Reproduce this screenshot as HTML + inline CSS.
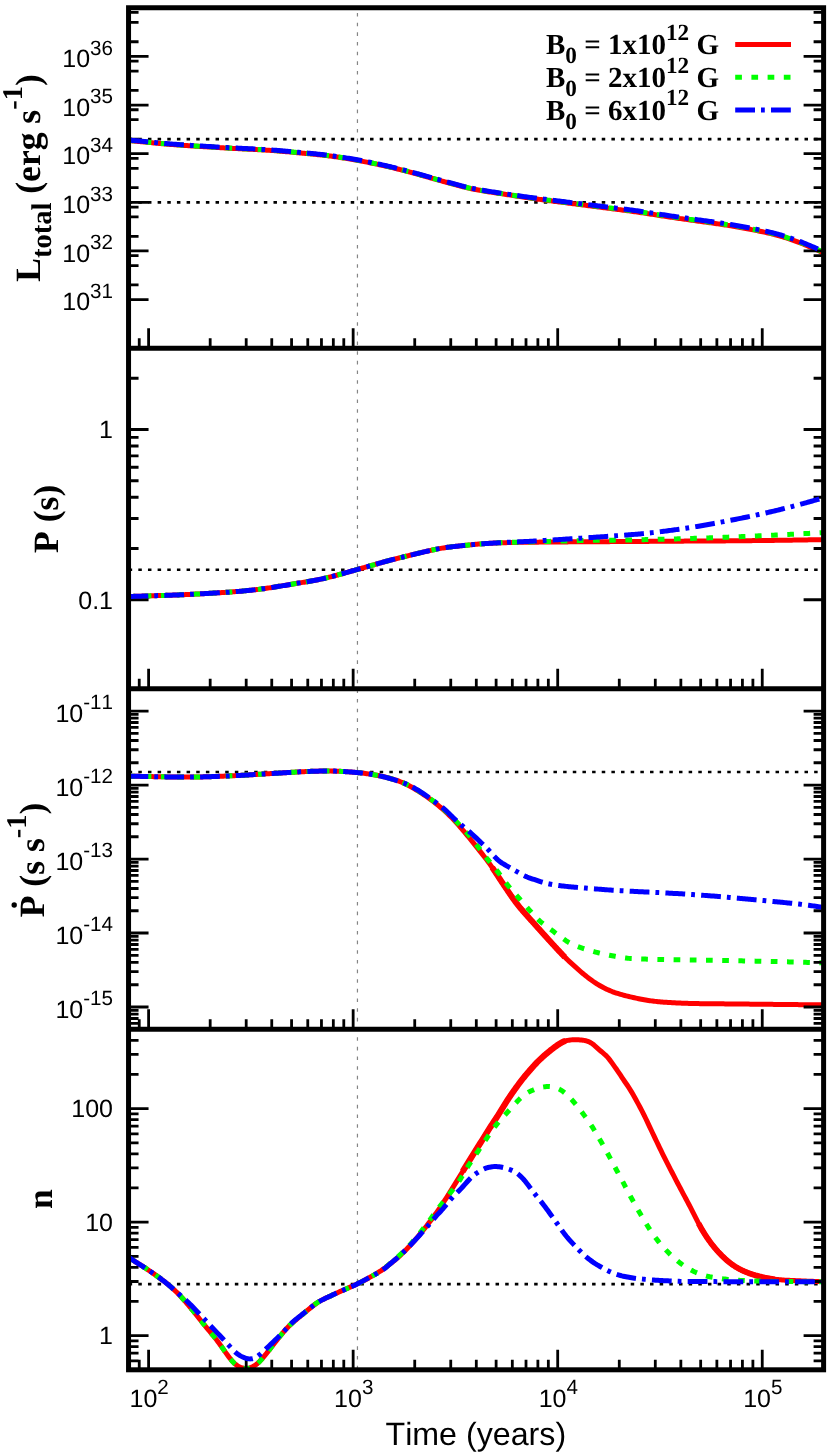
<!DOCTYPE html>
<html><head><meta charset="utf-8"><title>chart</title>
<style>html,body{margin:0;padding:0;background:#fff}svg{display:block;will-change:transform}text{font-kerning:none;font-variant-ligatures:none;text-rendering:geometricPrecision}</style>
</head><body>
<svg width="830" height="1455" viewBox="0 0 830 1455">
<rect width="830" height="1455" fill="#fff"/>
<defs>
<clipPath id="c1"><rect x="128.55" y="7.75" width="695.05" height="340.51"/></clipPath>
<clipPath id="c2"><rect x="128.55" y="348.26" width="695.05" height="340.51"/></clipPath>
<clipPath id="c3"><rect x="128.55" y="688.77" width="695.05" height="340.51"/></clipPath>
<clipPath id="c4"><rect x="128.55" y="1029.29" width="695.05" height="340.51"/></clipPath>
</defs>
<line x1="357.45" y1="13" x2="357.45" y2="1369.80" stroke="#858585" stroke-width="1.2" stroke-dasharray="3.6 6.062"/>
<line x1="128.55" y1="139.04" x2="823.60" y2="139.04" stroke="#000" stroke-width="2.7" stroke-dasharray="3.5 6.155" stroke-dashoffset="-0.1"/>
<line x1="128.55" y1="202.33" x2="823.60" y2="202.33" stroke="#000" stroke-width="2.7" stroke-dasharray="3.5 6.155" stroke-dashoffset="-0.1"/>
<line x1="128.55" y1="569.77" x2="823.60" y2="569.77" stroke="#000" stroke-width="2.7" stroke-dasharray="3.5 6.155" stroke-dashoffset="-0.1"/>
<line x1="128.55" y1="772.01" x2="823.60" y2="772.01" stroke="#000" stroke-width="2.7" stroke-dasharray="3.5 6.155" stroke-dashoffset="-0.1"/>
<line x1="128.55" y1="1284.18" x2="823.60" y2="1284.18" stroke="#000" stroke-width="2.7" stroke-dasharray="3.5 6.155" stroke-dashoffset="-0.1"/>
<path d="M128.50 140.60 L129.89 140.70 L131.29 140.81 L132.68 140.92 L134.08 141.04 L135.47 141.16 L136.86 141.28 L138.26 141.41 L139.65 141.54 L141.04 141.67 L142.44 141.80 L143.83 141.94 L145.23 142.07 L146.62 142.21 L148.01 142.35 L149.41 142.49 L150.80 142.63 L152.19 142.77 L153.59 142.90 L154.98 143.04 L156.38 143.18 L157.77 143.31 L159.16 143.45 L160.56 143.58 L161.95 143.71 L163.34 143.83 L164.74 143.96 L166.13 144.08 L167.53 144.19 L168.92 144.30 L170.31 144.41 L171.71 144.52 L173.10 144.63 L174.49 144.73 L175.89 144.83 L177.28 144.93 L178.68 145.03 L180.07 145.13 L181.46 145.23 L182.86 145.33 L184.25 145.42 L185.65 145.52 L187.04 145.61 L188.43 145.71 L189.83 145.80 L191.22 145.89 L192.61 145.98 L194.01 146.08 L195.40 146.17 L196.80 146.25 L198.19 146.34 L199.58 146.43 L200.98 146.52 L202.37 146.61 L203.76 146.69 L205.16 146.78 L206.55 146.87 L207.95 146.95 L209.34 147.04 L210.73 147.12 L212.13 147.21 L213.52 147.29 L214.91 147.38 L216.31 147.46 L217.70 147.54 L219.10 147.63 L220.49 147.71 L221.88 147.79 L223.28 147.87 L224.67 147.95 L226.07 148.03 L227.46 148.11 L228.85 148.18 L230.25 148.25 L231.64 148.33 L233.03 148.40 L234.43 148.47 L235.82 148.54 L237.22 148.61 L238.61 148.68 L240.00 148.74 L241.40 148.81 L242.79 148.88 L244.18 148.95 L245.58 149.02 L246.97 149.09 L248.37 149.16 L249.76 149.23 L251.15 149.30 L252.55 149.37 L253.94 149.44 L255.33 149.51 L256.73 149.59 L258.12 149.66 L259.52 149.74 L260.91 149.82 L262.30 149.90 L263.70 149.98 L265.09 150.06 L266.48 150.15 L267.88 150.24 L269.27 150.33 L270.67 150.42 L272.06 150.52 L273.45 150.62 L274.85 150.72 L276.24 150.83 L277.64 150.93 L279.03 151.05 L280.42 151.16 L281.82 151.28 L283.21 151.39 L284.60 151.51 L286.00 151.64 L287.39 151.76 L288.79 151.88 L290.18 152.01 L291.57 152.13 L292.97 152.26 L294.36 152.39 L295.75 152.51 L297.15 152.64 L298.54 152.77 L299.94 152.89 L301.33 153.02 L302.72 153.15 L304.12 153.28 L305.51 153.41 L306.90 153.54 L308.30 153.67 L309.69 153.81 L311.09 153.94 L312.48 154.08 L313.87 154.22 L315.27 154.36 L316.66 154.50 L318.06 154.65 L319.45 154.80 L320.84 154.95 L322.24 155.10 L323.63 155.25 L325.02 155.41 L326.42 155.57 L327.81 155.73 L329.21 155.91 L330.60 156.08 L331.99 156.27 L333.39 156.46 L334.78 156.65 L336.17 156.85 L337.57 157.05 L338.96 157.26 L340.36 157.47 L341.75 157.69 L343.14 157.91 L344.54 158.14 L345.93 158.37 L347.32 158.60 L348.72 158.83 L350.11 159.07 L351.51 159.32 L352.90 159.56 L354.29 159.81 L355.69 160.06 L357.08 160.31 L358.47 160.56 L359.87 160.82 L361.26 161.08 L362.66 161.34 L364.05 161.60 L365.44 161.87 L366.84 162.14 L368.23 162.42 L369.63 162.69 L371.02 162.97 L372.41 163.26 L373.81 163.54 L375.20 163.83 L376.59 164.13 L377.99 164.42 L379.38 164.72 L380.78 165.03 L382.17 165.34 L383.56 165.65 L384.96 165.97 L386.35 166.29 L387.74 166.61 L389.14 166.94 L390.53 167.27 L391.93 167.60 L393.32 167.93 L394.71 168.27 L396.11 168.61 L397.50 168.95 L398.89 169.29 L400.29 169.64 L401.68 169.99 L403.08 170.34 L404.47 170.69 L405.86 171.05 L407.26 171.42 L408.65 171.78 L410.05 172.16 L411.44 172.53 L412.83 172.91 L414.23 173.30 L415.62 173.68 L417.01 174.07 L418.41 174.46 L419.80 174.85 L421.20 175.24 L422.59 175.63 L423.98 176.02 L425.38 176.41 L426.77 176.81 L428.16 177.20 L429.56 177.59 L430.95 177.98 L432.35 178.38 L433.74 178.77 L435.13 179.16 L436.53 179.55 L437.92 179.93 L439.31 180.32 L440.71 180.71 L442.10 181.09 L443.50 181.48 L444.89 181.86 L446.28 182.24 L447.68 182.63 L449.07 183.01 L450.46 183.39 L451.86 183.76 L453.25 184.14 L454.65 184.52 L456.04 184.89 L457.43 185.26 L458.83 185.63 L460.22 186.00 L461.62 186.36 L463.01 186.72 L464.40 187.07 L465.80 187.42 L467.19 187.75 L468.58 188.07 L469.98 188.39 L471.37 188.69 L472.77 188.98 L474.16 189.27 L475.55 189.54 L476.95 189.81 L478.34 190.07 L479.73 190.33 L481.13 190.57 L482.52 190.81 L483.92 191.04 L485.31 191.27 L486.70 191.49 L488.10 191.71 L489.49 191.93 L490.88 192.14 L492.28 192.36 L493.67 192.57 L495.07 192.78 L496.46 192.99 L497.85 193.21 L499.25 193.42 L500.64 193.63 L502.04 193.84 L503.43 194.05 L504.82 194.26 L506.22 194.47 L507.61 194.68 L509.00 194.90 L510.40 195.11 L511.79 195.32 L513.19 195.53 L514.58 195.75 L515.97 195.96 L517.37 196.17 L518.76 196.39 L520.15 196.60 L521.55 196.81 L522.94 197.02 L524.34 197.23 L525.73 197.43 L527.12 197.63 L528.52 197.83 L529.91 198.03 L531.30 198.23 L532.70 198.42 L534.09 198.61 L535.49 198.80 L536.88 198.99 L538.27 199.18 L539.67 199.37 L541.06 199.56 L542.45 199.74 L543.85 199.93 L545.24 200.11 L546.64 200.29 L548.03 200.48 L549.42 200.66 L550.82 200.84 L552.21 201.02 L553.61 201.20 L555.00 201.38 L556.39 201.56 L557.79 201.74 L559.18 201.92 L560.57 202.10 L561.97 202.27 L563.36 202.45 L564.76 202.63 L566.15 202.81 L567.54 202.99 L568.94 203.17 L570.33 203.34 L571.72 203.52 L573.12 203.70 L574.51 203.88 L575.91 204.06 L577.30 204.24 L578.69 204.42 L580.09 204.60 L581.48 204.78 L582.87 204.96 L584.27 205.14 L585.66 205.32 L587.06 205.50 L588.45 205.68 L589.84 205.86 L591.24 206.04 L592.63 206.22 L594.03 206.40 L595.42 206.58 L596.81 206.75 L598.21 206.93 L599.60 207.11 L600.99 207.29 L602.39 207.47 L603.78 207.65 L605.18 207.82 L606.57 208.00 L607.96 208.18 L609.36 208.36 L610.75 208.54 L612.14 208.72 L613.54 208.90 L614.93 209.08 L616.33 209.26 L617.72 209.44 L619.11 209.62 L620.51 209.80 L621.90 209.98 L623.29 210.16 L624.69 210.34 L626.08 210.53 L627.48 210.71 L628.87 210.89 L630.26 211.08 L631.66 211.27 L633.05 211.46 L634.44 211.65 L635.84 211.85 L637.23 212.05 L638.63 212.25 L640.02 212.45 L641.41 212.66 L642.81 212.87 L644.20 213.08 L645.60 213.29 L646.99 213.51 L648.38 213.72 L649.78 213.94 L651.17 214.16 L652.56 214.38 L653.96 214.59 L655.35 214.81 L656.75 215.03 L658.14 215.25 L659.53 215.47 L660.93 215.69 L662.32 215.91 L663.71 216.13 L665.11 216.34 L666.50 216.56 L667.90 216.77 L669.29 216.98 L670.68 217.19 L672.08 217.39 L673.47 217.60 L674.86 217.80 L676.26 218.01 L677.65 218.21 L679.05 218.41 L680.44 218.61 L681.83 218.81 L683.23 219.01 L684.62 219.20 L686.02 219.40 L687.41 219.60 L688.80 219.79 L690.20 219.99 L691.59 220.18 L692.98 220.37 L694.38 220.57 L695.77 220.76 L697.17 220.96 L698.56 221.15 L699.95 221.34 L701.35 221.54 L702.74 221.73 L704.13 221.92 L705.53 222.12 L706.92 222.31 L708.32 222.51 L709.71 222.70 L711.10 222.90 L712.50 223.10 L713.89 223.29 L715.28 223.49 L716.68 223.69 L718.07 223.89 L719.47 224.09 L720.86 224.29 L722.25 224.50 L723.65 224.70 L725.04 224.91 L726.43 225.13 L727.83 225.35 L729.22 225.57 L730.62 225.80 L732.01 226.03 L733.40 226.26 L734.80 226.50 L736.19 226.74 L737.59 226.99 L738.98 227.24 L740.37 227.49 L741.77 227.74 L743.16 228.00 L744.55 228.26 L745.95 228.52 L747.34 228.78 L748.74 229.05 L750.13 229.31 L751.52 229.58 L752.92 229.85 L754.31 230.12 L755.70 230.40 L757.10 230.67 L758.49 230.94 L759.89 231.22 L761.28 231.50 L762.67 231.79 L764.07 232.09 L765.46 232.39 L766.85 232.71 L768.25 233.03 L769.64 233.36 L771.04 233.69 L772.43 234.04 L773.82 234.39 L775.22 234.76 L776.61 235.13 L778.01 235.51 L779.40 235.90 L780.79 236.29 L782.19 236.70 L783.58 237.11 L784.97 237.53 L786.37 237.97 L787.76 238.41 L789.16 238.87 L790.55 239.34 L791.94 239.83 L793.34 240.32 L794.73 240.83 L796.12 241.34 L797.52 241.86 L798.91 242.40 L800.31 242.94 L801.70 243.49 L803.09 244.04 L804.49 244.61 L805.88 245.17 L807.27 245.75 L808.67 246.33 L810.06 246.91 L811.46 247.51 L812.85 248.11 L814.24 248.71 L815.64 249.33 L817.03 249.95 L818.42 250.59 L819.82 251.24 L821.21 251.91 L822.61 252.60 L824.00 253.30" fill="none" stroke="#ff0000" stroke-width="5.00" stroke-linejoin="round" clip-path="url(#c1)"/>
<path d="M128.50 140.40 L129.89 140.50 L131.29 140.61 L132.68 140.72 L134.08 140.84 L135.47 140.96 L136.86 141.08 L138.26 141.21 L139.65 141.34 L141.04 141.47 L142.44 141.60 L143.83 141.74 L145.23 141.87 L146.62 142.01 L148.01 142.15 L149.41 142.29 L150.80 142.43 L152.19 142.57 L153.59 142.70 L154.98 142.84 L156.38 142.98 L157.77 143.11 L159.16 143.25 L160.56 143.38 L161.95 143.51 L163.34 143.63 L164.74 143.76 L166.13 143.88 L167.53 143.99 L168.92 144.10 L170.31 144.21 L171.71 144.32 L173.10 144.43 L174.49 144.53 L175.89 144.63 L177.28 144.73 L178.68 144.83 L180.07 144.93 L181.46 145.03 L182.86 145.13 L184.25 145.22 L185.65 145.32 L187.04 145.41 L188.43 145.51 L189.83 145.60 L191.22 145.69 L192.61 145.78 L194.01 145.88 L195.40 145.97 L196.80 146.05 L198.19 146.14 L199.58 146.23 L200.98 146.32 L202.37 146.41 L203.76 146.49 L205.16 146.58 L206.55 146.67 L207.95 146.75 L209.34 146.84 L210.73 146.92 L212.13 147.01 L213.52 147.09 L214.91 147.18 L216.31 147.26 L217.70 147.34 L219.10 147.43 L220.49 147.51 L221.88 147.59 L223.28 147.67 L224.67 147.75 L226.07 147.83 L227.46 147.91 L228.85 147.98 L230.25 148.05 L231.64 148.13 L233.03 148.20 L234.43 148.27 L235.82 148.34 L237.22 148.41 L238.61 148.48 L240.00 148.54 L241.40 148.61 L242.79 148.68 L244.18 148.75 L245.58 148.82 L246.97 148.89 L248.37 148.96 L249.76 149.03 L251.15 149.10 L252.55 149.17 L253.94 149.24 L255.33 149.31 L256.73 149.39 L258.12 149.46 L259.52 149.54 L260.91 149.62 L262.30 149.70 L263.70 149.78 L265.09 149.86 L266.48 149.95 L267.88 150.04 L269.27 150.13 L270.67 150.22 L272.06 150.32 L273.45 150.42 L274.85 150.52 L276.24 150.63 L277.64 150.73 L279.03 150.85 L280.42 150.96 L281.82 151.08 L283.21 151.19 L284.60 151.31 L286.00 151.44 L287.39 151.56 L288.79 151.68 L290.18 151.81 L291.57 151.93 L292.97 152.06 L294.36 152.19 L295.75 152.31 L297.15 152.44 L298.54 152.57 L299.94 152.69 L301.33 152.82 L302.72 152.95 L304.12 153.08 L305.51 153.21 L306.90 153.34 L308.30 153.47 L309.69 153.61 L311.09 153.74 L312.48 153.88 L313.87 154.02 L315.27 154.16 L316.66 154.30 L318.06 154.45 L319.45 154.60 L320.84 154.75 L322.24 154.90 L323.63 155.05 L325.02 155.21 L326.42 155.37 L327.81 155.53 L329.21 155.71 L330.60 155.88 L331.99 156.07 L333.39 156.26 L334.78 156.45 L336.17 156.65 L337.57 156.85 L338.96 157.06 L340.36 157.27 L341.75 157.49 L343.14 157.71 L344.54 157.94 L345.93 158.17 L347.32 158.40 L348.72 158.63 L350.11 158.87 L351.51 159.12 L352.90 159.36 L354.29 159.61 L355.69 159.86 L357.08 160.11 L358.47 160.36 L359.87 160.62 L361.26 160.88 L362.66 161.14 L364.05 161.40 L365.44 161.67 L366.84 161.94 L368.23 162.22 L369.63 162.49 L371.02 162.77 L372.41 163.06 L373.81 163.34 L375.20 163.63 L376.59 163.93 L377.99 164.22 L379.38 164.52 L380.78 164.83 L382.17 165.14 L383.56 165.45 L384.96 165.77 L386.35 166.09 L387.74 166.41 L389.14 166.74 L390.53 167.07 L391.93 167.40 L393.32 167.73 L394.71 168.07 L396.11 168.41 L397.50 168.75 L398.89 169.09 L400.29 169.44 L401.68 169.79 L403.08 170.14 L404.47 170.49 L405.86 170.85 L407.26 171.22 L408.65 171.58 L410.05 171.96 L411.44 172.33 L412.83 172.71 L414.23 173.10 L415.62 173.48 L417.01 173.87 L418.41 174.26 L419.80 174.65 L421.20 175.04 L422.59 175.43 L423.98 175.82 L425.38 176.21 L426.77 176.61 L428.16 177.00 L429.56 177.39 L430.95 177.78 L432.35 178.18 L433.74 178.57 L435.13 178.96 L436.53 179.35 L437.92 179.73 L439.31 180.12 L440.71 180.51 L442.10 180.89 L443.50 181.28 L444.89 181.66 L446.28 182.04 L447.68 182.43 L449.07 182.81 L450.46 183.19 L451.86 183.56 L453.25 183.94 L454.65 184.32 L456.04 184.69 L457.43 185.06 L458.83 185.43 L460.22 185.80 L461.62 186.16 L463.01 186.52 L464.40 186.87 L465.80 187.22 L467.19 187.55 L468.58 187.87 L469.98 188.19 L471.37 188.49 L472.77 188.78 L474.16 189.07 L475.55 189.34 L476.95 189.61 L478.34 189.87 L479.73 190.13 L481.13 190.37 L482.52 190.61 L483.92 190.85 L485.31 191.07 L486.70 191.29 L488.10 191.51 L489.49 191.73 L490.88 191.94 L492.28 192.15 L493.67 192.37 L495.07 192.58 L496.46 192.79 L497.85 193.00 L499.25 193.21 L500.64 193.42 L502.04 193.63 L503.43 193.84 L504.82 194.05 L506.22 194.26 L507.61 194.46 L509.00 194.67 L510.40 194.88 L511.79 195.09 L513.19 195.30 L514.58 195.51 L515.97 195.72 L517.37 195.93 L518.76 196.14 L520.15 196.35 L521.55 196.56 L522.94 196.77 L524.34 196.97 L525.73 197.17 L527.12 197.37 L528.52 197.56 L529.91 197.75 L531.30 197.94 L532.70 198.13 L534.09 198.31 L535.49 198.50 L536.88 198.68 L538.27 198.86 L539.67 199.05 L541.06 199.23 L542.45 199.41 L543.85 199.59 L545.24 199.77 L546.64 199.95 L548.03 200.13 L549.42 200.31 L550.82 200.48 L552.21 200.66 L553.61 200.84 L555.00 201.02 L556.39 201.19 L557.79 201.37 L559.18 201.55 L560.57 201.72 L561.97 201.90 L563.36 202.07 L564.76 202.25 L566.15 202.42 L567.54 202.60 L568.94 202.78 L570.33 202.95 L571.72 203.13 L573.12 203.30 L574.51 203.48 L575.91 203.66 L577.30 203.83 L578.69 204.01 L580.09 204.19 L581.48 204.36 L582.87 204.54 L584.27 204.72 L585.66 204.89 L587.06 205.07 L588.45 205.25 L589.84 205.42 L591.24 205.60 L592.63 205.77 L594.03 205.95 L595.42 206.12 L596.81 206.29 L598.21 206.47 L599.60 206.64 L600.99 206.82 L602.39 206.99 L603.78 207.17 L605.18 207.34 L606.57 207.51 L607.96 207.69 L609.36 207.86 L610.75 208.04 L612.14 208.21 L613.54 208.39 L614.93 208.57 L616.33 208.74 L617.72 208.92 L619.11 209.10 L620.51 209.27 L621.90 209.45 L623.29 209.63 L624.69 209.81 L626.08 209.99 L627.48 210.17 L628.87 210.35 L630.26 210.53 L631.66 210.72 L633.05 210.90 L634.44 211.09 L635.84 211.29 L637.23 211.49 L638.63 211.68 L640.02 211.89 L641.41 212.09 L642.81 212.30 L644.20 212.51 L645.60 212.72 L646.99 212.93 L648.38 213.15 L649.78 213.36 L651.17 213.58 L652.56 213.79 L653.96 214.01 L655.35 214.23 L656.75 214.45 L658.14 214.67 L659.53 214.88 L660.93 215.10 L662.32 215.32 L663.71 215.53 L665.11 215.75 L666.50 215.96 L667.90 216.17 L669.29 216.38 L670.68 216.59 L672.08 216.79 L673.47 217.00 L674.86 217.20 L676.26 217.40 L677.65 217.61 L679.05 217.81 L680.44 218.00 L681.83 218.20 L683.23 218.40 L684.62 218.60 L686.02 218.79 L687.41 218.99 L688.80 219.19 L690.20 219.38 L691.59 219.58 L692.98 219.77 L694.38 219.97 L695.77 220.16 L697.17 220.35 L698.56 220.55 L699.95 220.74 L701.35 220.94 L702.74 221.13 L704.13 221.32 L705.53 221.52 L706.92 221.71 L708.32 221.91 L709.71 222.10 L711.10 222.30 L712.50 222.50 L713.89 222.69 L715.28 222.89 L716.68 223.09 L718.07 223.29 L719.47 223.49 L720.86 223.69 L722.25 223.90 L723.65 224.10 L725.04 224.31 L726.43 224.53 L727.83 224.75 L729.22 224.97 L730.62 225.20 L732.01 225.43 L733.40 225.66 L734.80 225.90 L736.19 226.14 L737.59 226.39 L738.98 226.63 L740.37 226.89 L741.77 227.14 L743.16 227.40 L744.55 227.66 L745.95 227.92 L747.34 228.18 L748.74 228.45 L750.13 228.71 L751.52 228.98 L752.92 229.25 L754.31 229.52 L755.70 229.80 L757.10 230.07 L758.49 230.34 L759.89 230.62 L761.28 230.90 L762.67 231.19 L764.07 231.49 L765.46 231.79 L766.85 232.11 L768.25 232.43 L769.64 232.76 L771.04 233.09 L772.43 233.44 L773.82 233.79 L775.22 234.16 L776.61 234.53 L778.01 234.91 L779.40 235.30 L780.79 235.69 L782.19 236.10 L783.58 236.51 L784.97 236.93 L786.37 237.37 L787.76 237.81 L789.16 238.27 L790.55 238.74 L791.94 239.23 L793.34 239.72 L794.73 240.23 L796.12 240.74 L797.52 241.26 L798.91 241.80 L800.31 242.34 L801.70 242.89 L803.09 243.44 L804.49 244.01 L805.88 244.57 L807.27 245.15 L808.67 245.73 L810.06 246.31 L811.46 246.91 L812.85 247.51 L814.24 248.11 L815.64 248.73 L817.03 249.35 L818.42 249.99 L819.82 250.64 L821.21 251.31 L822.61 252.00 L824.00 252.70" fill="none" stroke="#00ff00" stroke-width="5.00" stroke-linejoin="round" stroke-dasharray="6.7 9.5" clip-path="url(#c1)"/>
<path d="M128.50 596.50 L129.89 596.47 L131.29 596.43 L132.68 596.39 L134.08 596.36 L135.47 596.32 L136.86 596.28 L138.26 596.24 L139.65 596.20 L141.04 596.16 L142.44 596.11 L143.83 596.07 L145.23 596.03 L146.62 595.98 L148.01 595.94 L149.41 595.89 L150.80 595.85 L152.19 595.80 L153.59 595.76 L154.98 595.71 L156.38 595.67 L157.77 595.62 L159.16 595.57 L160.56 595.52 L161.95 595.48 L163.34 595.43 L164.74 595.38 L166.13 595.34 L167.53 595.29 L168.92 595.24 L170.31 595.19 L171.71 595.14 L173.10 595.09 L174.49 595.04 L175.89 594.99 L177.28 594.93 L178.68 594.88 L180.07 594.82 L181.46 594.76 L182.86 594.70 L184.25 594.64 L185.65 594.58 L187.04 594.51 L188.43 594.45 L189.83 594.38 L191.22 594.31 L192.61 594.25 L194.01 594.18 L195.40 594.11 L196.80 594.03 L198.19 593.96 L199.58 593.89 L200.98 593.81 L202.37 593.74 L203.76 593.66 L205.16 593.58 L206.55 593.51 L207.95 593.43 L209.34 593.35 L210.73 593.27 L212.13 593.19 L213.52 593.10 L214.91 593.02 L216.31 592.94 L217.70 592.86 L219.10 592.77 L220.49 592.69 L221.88 592.60 L223.28 592.51 L224.67 592.42 L226.07 592.33 L227.46 592.23 L228.85 592.14 L230.25 592.04 L231.64 591.93 L233.03 591.83 L234.43 591.72 L235.82 591.61 L237.22 591.50 L238.61 591.38 L240.00 591.26 L241.40 591.14 L242.79 591.01 L244.18 590.88 L245.58 590.75 L246.97 590.61 L248.37 590.47 L249.76 590.33 L251.15 590.18 L252.55 590.03 L253.94 589.87 L255.33 589.71 L256.73 589.54 L258.12 589.38 L259.52 589.20 L260.91 589.03 L262.30 588.84 L263.70 588.66 L265.09 588.47 L266.48 588.27 L267.88 588.07 L269.27 587.87 L270.67 587.66 L272.06 587.44 L273.45 587.23 L274.85 587.01 L276.24 586.79 L277.64 586.56 L279.03 586.34 L280.42 586.11 L281.82 585.88 L283.21 585.65 L284.60 585.42 L286.00 585.18 L287.39 584.95 L288.79 584.72 L290.18 584.48 L291.57 584.25 L292.97 584.01 L294.36 583.78 L295.75 583.54 L297.15 583.31 L298.54 583.08 L299.94 582.85 L301.33 582.62 L302.72 582.39 L304.12 582.16 L305.51 581.93 L306.90 581.70 L308.30 581.46 L309.69 581.23 L311.09 580.98 L312.48 580.74 L313.87 580.49 L315.27 580.23 L316.66 579.96 L318.06 579.69 L319.45 579.41 L320.84 579.12 L322.24 578.82 L323.63 578.51 L325.02 578.19 L326.42 577.87 L327.81 577.54 L329.21 577.19 L330.60 576.85 L331.99 576.49 L333.39 576.13 L334.78 575.76 L336.17 575.39 L337.57 575.02 L338.96 574.64 L340.36 574.25 L341.75 573.87 L343.14 573.48 L344.54 573.09 L345.93 572.69 L347.32 572.30 L348.72 571.90 L350.11 571.51 L351.51 571.11 L352.90 570.72 L354.29 570.33 L355.69 569.94 L357.08 569.55 L358.47 569.16 L359.87 568.76 L361.26 568.37 L362.66 567.98 L364.05 567.58 L365.44 567.18 L366.84 566.78 L368.23 566.38 L369.63 565.98 L371.02 565.58 L372.41 565.18 L373.81 564.78 L375.20 564.39 L376.59 563.99 L377.99 563.59 L379.38 563.20 L380.78 562.81 L382.17 562.42 L383.56 562.03 L384.96 561.65 L386.35 561.27 L387.74 560.89 L389.14 560.52 L390.53 560.15 L391.93 559.79 L393.32 559.43 L394.71 559.07 L396.11 558.72 L397.50 558.37 L398.89 558.02 L400.29 557.67 L401.68 557.32 L403.08 556.98 L404.47 556.64 L405.86 556.30 L407.26 555.96 L408.65 555.61 L410.05 555.27 L411.44 554.93 L412.83 554.59 L414.23 554.25 L415.62 553.91 L417.01 553.57 L418.41 553.23 L419.80 552.90 L421.20 552.56 L422.59 552.23 L423.98 551.90 L425.38 551.58 L426.77 551.26 L428.16 550.94 L429.56 550.63 L430.95 550.32 L432.35 550.02 L433.74 549.73 L435.13 549.44 L436.53 549.16 L437.92 548.89 L439.31 548.63 L440.71 548.38 L442.10 548.14 L443.50 547.92 L444.89 547.71 L446.28 547.50 L447.68 547.31 L449.07 547.13 L450.46 546.95 L451.86 546.78 L453.25 546.62 L454.65 546.47 L456.04 546.31 L457.43 546.16 L458.83 546.02 L460.22 545.87 L461.62 545.73 L463.01 545.59 L464.40 545.45 L465.80 545.30 L467.19 545.16 L468.58 545.02 L469.98 544.88 L471.37 544.75 L472.77 544.61 L474.16 544.48 L475.55 544.35 L476.95 544.22 L478.34 544.10 L479.73 543.98 L481.13 543.87 L482.52 543.77 L483.92 543.67 L485.31 543.57 L486.70 543.48 L488.10 543.40 L489.49 543.32 L490.88 543.25 L492.28 543.18 L493.67 543.11 L495.07 543.04 L496.46 542.98 L497.85 542.92 L499.25 542.87 L500.64 542.82 L502.04 542.77 L503.43 542.72 L504.82 542.68 L506.22 542.65 L507.61 542.61 L509.00 542.58 L510.40 542.55 L511.79 542.52 L513.19 542.49 L514.58 542.46 L515.97 542.43 L517.37 542.40 L518.76 542.37 L520.15 542.34 L521.55 542.32 L522.94 542.29 L524.34 542.27 L525.73 542.25 L527.12 542.23 L528.52 542.22 L529.91 542.20 L531.30 542.19 L532.70 542.18 L534.09 542.16 L535.49 542.15 L536.88 542.14 L538.27 542.13 L539.67 542.11 L541.06 542.10 L542.45 542.09 L543.85 542.08 L545.24 542.07 L546.64 542.05 L548.03 542.04 L549.42 542.03 L550.82 542.02 L552.21 542.01 L553.61 541.99 L555.00 541.98 L556.39 541.97 L557.79 541.96 L559.18 541.95 L560.57 541.94 L561.97 541.93 L563.36 541.92 L564.76 541.91 L566.15 541.90 L567.54 541.88 L568.94 541.87 L570.33 541.86 L571.72 541.85 L573.12 541.85 L574.51 541.84 L575.91 541.83 L577.30 541.82 L578.69 541.81 L580.09 541.80 L581.48 541.79 L582.87 541.78 L584.27 541.77 L585.66 541.77 L587.06 541.76 L588.45 541.75 L589.84 541.74 L591.24 541.73 L592.63 541.72 L594.03 541.72 L595.42 541.71 L596.81 541.70 L598.21 541.69 L599.60 541.68 L600.99 541.68 L602.39 541.67 L603.78 541.66 L605.18 541.65 L606.57 541.64 L607.96 541.64 L609.36 541.63 L610.75 541.62 L612.14 541.61 L613.54 541.60 L614.93 541.59 L616.33 541.59 L617.72 541.58 L619.11 541.57 L620.51 541.56 L621.90 541.55 L623.29 541.54 L624.69 541.53 L626.08 541.53 L627.48 541.52 L628.87 541.51 L630.26 541.50 L631.66 541.49 L633.05 541.48 L634.44 541.47 L635.84 541.46 L637.23 541.45 L638.63 541.44 L640.02 541.43 L641.41 541.42 L642.81 541.41 L644.20 541.40 L645.60 541.39 L646.99 541.38 L648.38 541.38 L649.78 541.37 L651.17 541.36 L652.56 541.35 L653.96 541.34 L655.35 541.33 L656.75 541.32 L658.14 541.31 L659.53 541.30 L660.93 541.29 L662.32 541.28 L663.71 541.27 L665.11 541.26 L666.50 541.25 L667.90 541.24 L669.29 541.23 L670.68 541.22 L672.08 541.21 L673.47 541.20 L674.86 541.19 L676.26 541.18 L677.65 541.17 L679.05 541.16 L680.44 541.15 L681.83 541.14 L683.23 541.13 L684.62 541.12 L686.02 541.11 L687.41 541.10 L688.80 541.09 L690.20 541.09 L691.59 541.08 L692.98 541.07 L694.38 541.06 L695.77 541.05 L697.17 541.04 L698.56 541.04 L699.95 541.03 L701.35 541.02 L702.74 541.01 L704.13 541.00 L705.53 541.00 L706.92 540.99 L708.32 540.98 L709.71 540.97 L711.10 540.97 L712.50 540.96 L713.89 540.95 L715.28 540.94 L716.68 540.93 L718.07 540.92 L719.47 540.92 L720.86 540.91 L722.25 540.90 L723.65 540.89 L725.04 540.88 L726.43 540.87 L727.83 540.86 L729.22 540.85 L730.62 540.84 L732.01 540.83 L733.40 540.81 L734.80 540.80 L736.19 540.79 L737.59 540.78 L738.98 540.76 L740.37 540.75 L741.77 540.74 L743.16 540.73 L744.55 540.71 L745.95 540.70 L747.34 540.68 L748.74 540.67 L750.13 540.65 L751.52 540.64 L752.92 540.62 L754.31 540.61 L755.70 540.59 L757.10 540.58 L758.49 540.56 L759.89 540.55 L761.28 540.53 L762.67 540.51 L764.07 540.50 L765.46 540.48 L766.85 540.46 L768.25 540.45 L769.64 540.43 L771.04 540.41 L772.43 540.40 L773.82 540.38 L775.22 540.36 L776.61 540.34 L778.01 540.33 L779.40 540.31 L780.79 540.29 L782.19 540.27 L783.58 540.25 L784.97 540.23 L786.37 540.21 L787.76 540.20 L789.16 540.18 L790.55 540.16 L791.94 540.14 L793.34 540.12 L794.73 540.09 L796.12 540.07 L797.52 540.05 L798.91 540.03 L800.31 540.01 L801.70 539.99 L803.09 539.96 L804.49 539.94 L805.88 539.92 L807.27 539.90 L808.67 539.87 L810.06 539.85 L811.46 539.83 L812.85 539.80 L814.24 539.78 L815.64 539.75 L817.03 539.73 L818.42 539.70 L819.82 539.68 L821.21 539.65 L822.61 539.63 L824.00 539.60" fill="none" stroke="#ff0000" stroke-width="5.00" stroke-linejoin="round" clip-path="url(#c2)"/>
<path d="M128.50 596.50 L129.89 596.47 L131.29 596.43 L132.68 596.39 L134.08 596.36 L135.47 596.32 L136.86 596.28 L138.26 596.24 L139.65 596.20 L141.04 596.16 L142.44 596.11 L143.83 596.07 L145.23 596.03 L146.62 595.98 L148.01 595.94 L149.41 595.89 L150.80 595.85 L152.19 595.80 L153.59 595.76 L154.98 595.71 L156.38 595.67 L157.77 595.62 L159.16 595.57 L160.56 595.52 L161.95 595.48 L163.34 595.43 L164.74 595.38 L166.13 595.34 L167.53 595.29 L168.92 595.24 L170.31 595.19 L171.71 595.14 L173.10 595.09 L174.49 595.04 L175.89 594.99 L177.28 594.93 L178.68 594.88 L180.07 594.82 L181.46 594.76 L182.86 594.70 L184.25 594.64 L185.65 594.58 L187.04 594.51 L188.43 594.45 L189.83 594.38 L191.22 594.31 L192.61 594.25 L194.01 594.18 L195.40 594.11 L196.80 594.03 L198.19 593.96 L199.58 593.89 L200.98 593.81 L202.37 593.74 L203.76 593.66 L205.16 593.58 L206.55 593.51 L207.95 593.43 L209.34 593.35 L210.73 593.27 L212.13 593.19 L213.52 593.10 L214.91 593.02 L216.31 592.94 L217.70 592.86 L219.10 592.77 L220.49 592.69 L221.88 592.60 L223.28 592.51 L224.67 592.42 L226.07 592.33 L227.46 592.23 L228.85 592.14 L230.25 592.04 L231.64 591.93 L233.03 591.83 L234.43 591.72 L235.82 591.61 L237.22 591.50 L238.61 591.38 L240.00 591.26 L241.40 591.14 L242.79 591.01 L244.18 590.88 L245.58 590.75 L246.97 590.61 L248.37 590.47 L249.76 590.33 L251.15 590.18 L252.55 590.03 L253.94 589.87 L255.33 589.71 L256.73 589.54 L258.12 589.38 L259.52 589.20 L260.91 589.03 L262.30 588.84 L263.70 588.66 L265.09 588.47 L266.48 588.27 L267.88 588.07 L269.27 587.87 L270.67 587.66 L272.06 587.44 L273.45 587.23 L274.85 587.01 L276.24 586.79 L277.64 586.56 L279.03 586.34 L280.42 586.11 L281.82 585.88 L283.21 585.65 L284.60 585.42 L286.00 585.18 L287.39 584.95 L288.79 584.72 L290.18 584.48 L291.57 584.25 L292.97 584.01 L294.36 583.78 L295.75 583.54 L297.15 583.31 L298.54 583.08 L299.94 582.85 L301.33 582.62 L302.72 582.39 L304.12 582.16 L305.51 581.93 L306.90 581.70 L308.30 581.46 L309.69 581.23 L311.09 580.98 L312.48 580.74 L313.87 580.49 L315.27 580.23 L316.66 579.96 L318.06 579.69 L319.45 579.41 L320.84 579.12 L322.24 578.82 L323.63 578.51 L325.02 578.19 L326.42 577.87 L327.81 577.54 L329.21 577.19 L330.60 576.85 L331.99 576.49 L333.39 576.13 L334.78 575.76 L336.17 575.39 L337.57 575.02 L338.96 574.64 L340.36 574.25 L341.75 573.87 L343.14 573.48 L344.54 573.09 L345.93 572.69 L347.32 572.30 L348.72 571.90 L350.11 571.51 L351.51 571.11 L352.90 570.72 L354.29 570.33 L355.69 569.94 L357.08 569.55 L358.47 569.16 L359.87 568.76 L361.26 568.37 L362.66 567.98 L364.05 567.58 L365.44 567.18 L366.84 566.78 L368.23 566.38 L369.63 565.98 L371.02 565.58 L372.41 565.18 L373.81 564.78 L375.20 564.39 L376.59 563.99 L377.99 563.59 L379.38 563.20 L380.78 562.81 L382.17 562.42 L383.56 562.03 L384.96 561.65 L386.35 561.27 L387.74 560.89 L389.14 560.52 L390.53 560.15 L391.93 559.79 L393.32 559.43 L394.71 559.07 L396.11 558.72 L397.50 558.37 L398.89 558.02 L400.29 557.67 L401.68 557.32 L403.08 556.98 L404.47 556.64 L405.86 556.30 L407.26 555.96 L408.65 555.61 L410.05 555.27 L411.44 554.93 L412.83 554.59 L414.23 554.25 L415.62 553.91 L417.01 553.57 L418.41 553.23 L419.80 552.90 L421.20 552.56 L422.59 552.23 L423.98 551.90 L425.38 551.58 L426.77 551.26 L428.16 550.94 L429.56 550.63 L430.95 550.32 L432.35 550.02 L433.74 549.73 L435.13 549.44 L436.53 549.16 L437.92 548.89 L439.31 548.63 L440.71 548.38 L442.10 548.14 L443.50 547.92 L444.89 547.70 L446.28 547.50 L447.68 547.31 L449.07 547.12 L450.46 546.95 L451.86 546.78 L453.25 546.61 L454.65 546.46 L456.04 546.31 L457.43 546.16 L458.83 546.01 L460.22 545.87 L461.62 545.73 L463.01 545.59 L464.40 545.45 L465.80 545.31 L467.19 545.17 L468.58 545.04 L469.98 544.90 L471.37 544.77 L472.77 544.64 L474.16 544.51 L475.55 544.38 L476.95 544.26 L478.34 544.14 L479.73 544.02 L481.13 543.91 L482.52 543.80 L483.92 543.69 L485.31 543.59 L486.70 543.49 L488.10 543.40 L489.49 543.31 L490.88 543.22 L492.28 543.13 L493.67 543.05 L495.07 542.97 L496.46 542.89 L497.85 542.81 L499.25 542.74 L500.64 542.67 L502.04 542.61 L503.43 542.55 L504.82 542.50 L506.22 542.46 L507.61 542.41 L509.00 542.38 L510.40 542.34 L511.79 542.31 L513.19 542.28 L514.58 542.25 L515.97 542.22 L517.37 542.19 L518.76 542.16 L520.15 542.13 L521.55 542.09 L522.94 542.06 L524.34 542.03 L525.73 542.00 L527.12 541.97 L528.52 541.94 L529.91 541.90 L531.30 541.87 L532.70 541.83 L534.09 541.80 L535.49 541.76 L536.88 541.72 L538.27 541.69 L539.67 541.65 L541.06 541.61 L542.45 541.58 L543.85 541.54 L545.24 541.50 L546.64 541.46 L548.03 541.43 L549.42 541.39 L550.82 541.35 L552.21 541.31 L553.61 541.28 L555.00 541.24 L556.39 541.20 L557.79 541.16 L559.18 541.13 L560.57 541.09 L561.97 541.05 L563.36 541.02 L564.76 540.98 L566.15 540.94 L567.54 540.91 L568.94 540.87 L570.33 540.84 L571.72 540.80 L573.12 540.77 L574.51 540.74 L575.91 540.70 L577.30 540.67 L578.69 540.64 L580.09 540.61 L581.48 540.58 L582.87 540.55 L584.27 540.52 L585.66 540.49 L587.06 540.47 L588.45 540.44 L589.84 540.42 L591.24 540.40 L592.63 540.38 L594.03 540.36 L595.42 540.34 L596.81 540.32 L598.21 540.30 L599.60 540.29 L600.99 540.27 L602.39 540.26 L603.78 540.24 L605.18 540.23 L606.57 540.21 L607.96 540.19 L609.36 540.18 L610.75 540.16 L612.14 540.15 L613.54 540.13 L614.93 540.12 L616.33 540.10 L617.72 540.09 L619.11 540.07 L620.51 540.05 L621.90 540.03 L623.29 540.01 L624.69 539.99 L626.08 539.97 L627.48 539.95 L628.87 539.93 L630.26 539.90 L631.66 539.88 L633.05 539.85 L634.44 539.83 L635.84 539.80 L637.23 539.77 L638.63 539.75 L640.02 539.72 L641.41 539.69 L642.81 539.66 L644.20 539.63 L645.60 539.61 L646.99 539.58 L648.38 539.55 L649.78 539.52 L651.17 539.49 L652.56 539.46 L653.96 539.43 L655.35 539.40 L656.75 539.37 L658.14 539.33 L659.53 539.30 L660.93 539.27 L662.32 539.24 L663.71 539.20 L665.11 539.17 L666.50 539.14 L667.90 539.10 L669.29 539.07 L670.68 539.03 L672.08 539.00 L673.47 538.96 L674.86 538.93 L676.26 538.89 L677.65 538.85 L679.05 538.81 L680.44 538.78 L681.83 538.74 L683.23 538.70 L684.62 538.66 L686.02 538.62 L687.41 538.58 L688.80 538.54 L690.20 538.50 L691.59 538.46 L692.98 538.42 L694.38 538.37 L695.77 538.33 L697.17 538.29 L698.56 538.24 L699.95 538.20 L701.35 538.15 L702.74 538.11 L704.13 538.06 L705.53 538.01 L706.92 537.97 L708.32 537.92 L709.71 537.87 L711.10 537.82 L712.50 537.77 L713.89 537.72 L715.28 537.67 L716.68 537.62 L718.07 537.56 L719.47 537.51 L720.86 537.46 L722.25 537.40 L723.65 537.35 L725.04 537.29 L726.43 537.24 L727.83 537.18 L729.22 537.12 L730.62 537.07 L732.01 537.01 L733.40 536.95 L734.80 536.89 L736.19 536.84 L737.59 536.78 L738.98 536.72 L740.37 536.66 L741.77 536.60 L743.16 536.54 L744.55 536.48 L745.95 536.42 L747.34 536.36 L748.74 536.30 L750.13 536.24 L751.52 536.17 L752.92 536.11 L754.31 536.05 L755.70 535.99 L757.10 535.92 L758.49 535.86 L759.89 535.79 L761.28 535.73 L762.67 535.67 L764.07 535.60 L765.46 535.53 L766.85 535.47 L768.25 535.40 L769.64 535.33 L771.04 535.27 L772.43 535.20 L773.82 535.13 L775.22 535.06 L776.61 534.99 L778.01 534.93 L779.40 534.86 L780.79 534.79 L782.19 534.72 L783.58 534.65 L784.97 534.58 L786.37 534.51 L787.76 534.45 L789.16 534.38 L790.55 534.31 L791.94 534.24 L793.34 534.17 L794.73 534.10 L796.12 534.03 L797.52 533.96 L798.91 533.89 L800.31 533.82 L801.70 533.75 L803.09 533.68 L804.49 533.61 L805.88 533.54 L807.27 533.47 L808.67 533.40 L810.06 533.33 L811.46 533.25 L812.85 533.18 L814.24 533.11 L815.64 533.04 L817.03 532.97 L818.42 532.89 L819.82 532.82 L821.21 532.75 L822.61 532.67 L824.00 532.60" fill="none" stroke="#00ff00" stroke-width="5.00" stroke-linejoin="round" stroke-dasharray="6.7 9.5" clip-path="url(#c2)"/>
<path d="M128.50 776.30 L129.89 776.30 L131.29 776.30 L132.68 776.30 L134.08 776.31 L135.47 776.32 L136.86 776.34 L138.26 776.35 L139.65 776.37 L141.04 776.39 L142.44 776.41 L143.83 776.43 L145.23 776.46 L146.62 776.48 L148.01 776.51 L149.41 776.54 L150.80 776.57 L152.19 776.60 L153.59 776.63 L154.98 776.66 L156.38 776.69 L157.77 776.72 L159.16 776.75 L160.56 776.78 L161.95 776.81 L163.34 776.84 L164.74 776.87 L166.13 776.90 L167.53 776.92 L168.92 776.95 L170.31 776.97 L171.71 777.00 L173.10 777.02 L174.49 777.03 L175.89 777.05 L177.28 777.07 L178.68 777.08 L180.07 777.09 L181.46 777.09 L182.86 777.10 L184.25 777.10 L185.65 777.10 L187.04 777.09 L188.43 777.09 L189.83 777.08 L191.22 777.07 L192.61 777.05 L194.01 777.03 L195.40 777.01 L196.80 776.99 L198.19 776.97 L199.58 776.94 L200.98 776.91 L202.37 776.88 L203.76 776.85 L205.16 776.81 L206.55 776.78 L207.95 776.74 L209.34 776.70 L210.73 776.65 L212.13 776.61 L213.52 776.56 L214.91 776.51 L216.31 776.46 L217.70 776.40 L219.10 776.35 L220.49 776.29 L221.88 776.23 L223.28 776.18 L224.67 776.12 L226.07 776.06 L227.46 776.00 L228.85 775.93 L230.25 775.87 L231.64 775.81 L233.03 775.74 L234.43 775.68 L235.82 775.61 L237.22 775.54 L238.61 775.47 L240.00 775.40 L241.40 775.32 L242.79 775.24 L244.18 775.16 L245.58 775.08 L246.97 775.00 L248.37 774.92 L249.76 774.83 L251.15 774.75 L252.55 774.67 L253.94 774.58 L255.33 774.50 L256.73 774.42 L258.12 774.33 L259.52 774.25 L260.91 774.17 L262.30 774.08 L263.70 774.00 L265.09 773.92 L266.48 773.83 L267.88 773.75 L269.27 773.67 L270.67 773.58 L272.06 773.50 L273.45 773.42 L274.85 773.33 L276.24 773.25 L277.64 773.17 L279.03 773.08 L280.42 773.00 L281.82 772.92 L283.21 772.83 L284.60 772.75 L286.00 772.66 L287.39 772.58 L288.79 772.50 L290.18 772.41 L291.57 772.33 L292.97 772.25 L294.36 772.16 L295.75 772.08 L297.15 772.00 L298.54 771.92 L299.94 771.85 L301.33 771.78 L302.72 771.71 L304.12 771.65 L305.51 771.59 L306.90 771.53 L308.30 771.47 L309.69 771.42 L311.09 771.37 L312.48 771.32 L313.87 771.28 L315.27 771.24 L316.66 771.20 L318.06 771.16 L319.45 771.12 L320.84 771.09 L322.24 771.06 L323.63 771.03 L325.02 771.01 L326.42 770.99 L327.81 770.98 L329.21 770.98 L330.60 770.99 L331.99 771.02 L333.39 771.05 L334.78 771.09 L336.17 771.14 L337.57 771.20 L338.96 771.26 L340.36 771.33 L341.75 771.41 L343.14 771.50 L344.54 771.59 L345.93 771.68 L347.32 771.78 L348.72 771.88 L350.11 771.99 L351.51 772.10 L352.90 772.21 L354.29 772.33 L355.69 772.44 L357.08 772.56 L358.47 772.69 L359.87 772.82 L361.26 772.97 L362.66 773.13 L364.05 773.30 L365.44 773.48 L366.84 773.68 L368.23 773.88 L369.63 774.09 L371.02 774.31 L372.41 774.54 L373.81 774.77 L375.20 775.01 L376.59 775.26 L377.99 775.52 L379.38 775.79 L380.78 776.08 L382.17 776.38 L383.56 776.70 L384.96 777.03 L386.35 777.38 L387.74 777.74 L389.14 778.12 L390.53 778.51 L391.93 778.92 L393.32 779.34 L394.71 779.78 L396.11 780.24 L397.50 780.72 L398.89 781.22 L400.29 781.74 L401.68 782.29 L403.08 782.88 L404.47 783.49 L405.86 784.15 L407.26 784.83 L408.65 785.55 L410.05 786.29 L411.44 787.06 L412.83 787.85 L414.23 788.66 L415.62 789.48 L417.01 790.33 L418.41 791.19 L419.80 792.07 L421.20 792.96 L422.59 793.87 L423.98 794.80 L425.38 795.75 L426.77 796.71 L428.16 797.69 L429.56 798.70 L430.95 799.72 L432.35 800.76 L433.74 801.83 L435.13 802.91 L436.53 804.02 L437.92 805.15 L439.31 806.31 L440.71 807.49 L442.10 808.69 L443.50 809.91 L444.89 811.16 L446.28 812.43 L447.68 813.74 L449.07 815.07 L450.46 816.44 L451.86 817.84 L453.25 819.28 L454.65 820.75 L456.04 822.27 L457.43 823.82 L458.83 825.40 L460.22 827.01 L461.62 828.65 L463.01 830.29 L464.40 831.96 L465.80 833.64 L467.19 835.33 L468.58 837.03 L469.98 838.74 L471.37 840.46 L472.77 842.18 L474.16 843.90 L475.55 845.63 L476.95 847.36 L478.34 849.10 L479.73 850.85 L481.13 852.61 L482.52 854.39 L483.92 856.19 L485.31 858.01 L486.70 859.85 L488.10 861.73 L489.49 863.64 L490.88 865.59 L492.28 867.59 L493.67 869.64 L495.07 871.72 L496.46 873.83 L497.85 875.95 L499.25 878.08 L500.64 880.20 L502.04 882.31 L503.43 884.40 L504.82 886.47 L506.22 888.53 L507.61 890.59 L509.00 892.64 L510.40 894.69 L511.79 896.71 L513.19 898.69 L514.58 900.63 L515.97 902.51 L517.37 904.32 L518.76 906.07 L520.15 907.76 L521.55 909.41 L522.94 911.03 L524.34 912.64 L525.73 914.22 L527.12 915.80 L528.52 917.36 L529.91 918.92 L531.30 920.47 L532.70 922.02 L534.09 923.57 L535.49 925.12 L536.88 926.67 L538.27 928.22 L539.67 929.78 L541.06 931.32 L542.45 932.87 L543.85 934.42 L545.24 935.97 L546.64 937.51 L548.03 939.05 L549.42 940.59 L550.82 942.12 L552.21 943.64 L553.61 945.16 L555.00 946.67 L556.39 948.18 L557.79 949.68 L559.18 951.17 L560.57 952.66 L561.97 954.13 L563.36 955.58 L564.76 957.00 L566.15 958.39 L567.54 959.76 L568.94 961.09 L570.33 962.40 L571.72 963.69 L573.12 964.96 L574.51 966.22 L575.91 967.48 L577.30 968.72 L578.69 969.95 L580.09 971.15 L581.48 972.34 L582.87 973.50 L584.27 974.64 L585.66 975.76 L587.06 976.85 L588.45 977.92 L589.84 978.97 L591.24 980.00 L592.63 981.00 L594.03 981.96 L595.42 982.89 L596.81 983.79 L598.21 984.66 L599.60 985.49 L600.99 986.28 L602.39 987.04 L603.78 987.77 L605.18 988.46 L606.57 989.13 L607.96 989.77 L609.36 990.38 L610.75 990.97 L612.14 991.54 L613.54 992.07 L614.93 992.58 L616.33 993.05 L617.72 993.49 L619.11 993.91 L620.51 994.31 L621.90 994.70 L623.29 995.09 L624.69 995.46 L626.08 995.82 L627.48 996.17 L628.87 996.51 L630.26 996.84 L631.66 997.16 L633.05 997.48 L634.44 997.79 L635.84 998.10 L637.23 998.40 L638.63 998.70 L640.02 998.99 L641.41 999.27 L642.81 999.54 L644.20 999.79 L645.60 1000.04 L646.99 1000.27 L648.38 1000.48 L649.78 1000.69 L651.17 1000.88 L652.56 1001.05 L653.96 1001.22 L655.35 1001.38 L656.75 1001.52 L658.14 1001.66 L659.53 1001.79 L660.93 1001.91 L662.32 1002.03 L663.71 1002.14 L665.11 1002.25 L666.50 1002.35 L667.90 1002.45 L669.29 1002.54 L670.68 1002.62 L672.08 1002.69 L673.47 1002.76 L674.86 1002.83 L676.26 1002.90 L677.65 1002.96 L679.05 1003.03 L680.44 1003.09 L681.83 1003.15 L683.23 1003.21 L684.62 1003.27 L686.02 1003.32 L687.41 1003.37 L688.80 1003.41 L690.20 1003.46 L691.59 1003.49 L692.98 1003.53 L694.38 1003.55 L695.77 1003.58 L697.17 1003.60 L698.56 1003.61 L699.95 1003.63 L701.35 1003.64 L702.74 1003.66 L704.13 1003.67 L705.53 1003.68 L706.92 1003.70 L708.32 1003.71 L709.71 1003.73 L711.10 1003.74 L712.50 1003.75 L713.89 1003.77 L715.28 1003.78 L716.68 1003.79 L718.07 1003.81 L719.47 1003.82 L720.86 1003.84 L722.25 1003.85 L723.65 1003.86 L725.04 1003.88 L726.43 1003.89 L727.83 1003.90 L729.22 1003.92 L730.62 1003.93 L732.01 1003.95 L733.40 1003.96 L734.80 1003.97 L736.19 1003.99 L737.59 1004.00 L738.98 1004.01 L740.37 1004.03 L741.77 1004.04 L743.16 1004.06 L744.55 1004.07 L745.95 1004.09 L747.34 1004.10 L748.74 1004.11 L750.13 1004.13 L751.52 1004.14 L752.92 1004.16 L754.31 1004.17 L755.70 1004.19 L757.10 1004.20 L758.49 1004.22 L759.89 1004.23 L761.28 1004.25 L762.67 1004.26 L764.07 1004.27 L765.46 1004.29 L766.85 1004.30 L768.25 1004.32 L769.64 1004.33 L771.04 1004.35 L772.43 1004.36 L773.82 1004.38 L775.22 1004.39 L776.61 1004.40 L778.01 1004.42 L779.40 1004.43 L780.79 1004.45 L782.19 1004.46 L783.58 1004.48 L784.97 1004.49 L786.37 1004.51 L787.76 1004.52 L789.16 1004.53 L790.55 1004.55 L791.94 1004.56 L793.34 1004.58 L794.73 1004.59 L796.12 1004.61 L797.52 1004.62 L798.91 1004.64 L800.31 1004.65 L801.70 1004.66 L803.09 1004.68 L804.49 1004.69 L805.88 1004.71 L807.27 1004.72 L808.67 1004.74 L810.06 1004.75 L811.46 1004.77 L812.85 1004.78 L814.24 1004.80 L815.64 1004.81 L817.03 1004.83 L818.42 1004.84 L819.82 1004.86 L821.21 1004.87 L822.61 1004.89 L824.00 1004.90" fill="none" stroke="#ff0000" stroke-width="5.00" stroke-linejoin="round" clip-path="url(#c3)"/>
<path d="M492.11 867.35 L492.88 868.47 L493.66 869.61 L494.43 870.77 L495.20 871.93 L495.98 873.10 L496.75 874.27 L497.53 875.45 L498.30 876.63 L499.07 877.81 L499.85 878.99 L500.62 880.17 L501.39 881.34 L502.17 882.51 L502.94 883.67 L503.71 884.82 L504.49 885.97 L505.26 887.12 L506.04 888.26 L506.81 889.40 L507.58 890.55 L508.36 891.69 L509.13 892.83 L509.90 893.96 L510.68 895.09 L511.45 896.22 L512.22 897.33 L513.00 898.43 L513.77 899.51 L514.55 900.58 L515.32 901.64 L516.09 902.67 L516.87 903.68 L517.64 904.67 L518.41 905.64 L519.19 906.59 L519.96 907.53 L520.73 908.45 L521.51 909.36 L522.28 910.27 L523.06 911.17 L523.83 912.06 L524.60 912.94 L525.38 913.82 L526.15 914.70 L526.92 915.57 L527.70 916.44 L528.47 917.31 L529.24 918.17 L530.02 919.03 L530.79 919.90 L531.57 920.76 L532.34 921.62 L533.11 922.48 L533.89 923.34 L534.66 924.20 L535.43 925.06 L536.21 925.93 L536.98 926.79 L537.75 927.65 L538.53 928.51 L539.30 929.37 L540.08 930.23 L540.85 931.09 L541.62 931.95 L542.40 932.81 L543.17 933.67 L543.94 934.53 L544.72 935.38 L545.49 936.24 L546.26 937.10 L547.04 937.95 L547.81 938.81 L548.59 939.66 L549.36 940.51 L550.13 941.36 L550.91 942.21 L551.68 943.06 L552.45 943.91 L553.23 944.75 L554.00 945.59 L554.77 946.43 L555.55 947.27 L556.32 948.10 L557.10 948.93 L557.87 949.77 L558.64 950.60 L559.42 951.42 L560.19 952.25 L560.96 953.07 L561.74 953.89 L562.51 954.70 L563.28 955.50 L564.06 956.29 L564.83 957.08" fill="none" stroke="#ff0000" stroke-width="6.00" stroke-linejoin="round" stroke-linecap="butt" clip-path="url(#c3)"/>
<path d="M128.50 776.30 L129.89 776.30 L131.29 776.30 L132.68 776.30 L134.08 776.31 L135.47 776.32 L136.86 776.34 L138.26 776.35 L139.65 776.37 L141.04 776.39 L142.44 776.41 L143.83 776.43 L145.23 776.46 L146.62 776.48 L148.01 776.51 L149.41 776.54 L150.80 776.57 L152.19 776.60 L153.59 776.63 L154.98 776.66 L156.38 776.69 L157.77 776.72 L159.16 776.75 L160.56 776.78 L161.95 776.81 L163.34 776.84 L164.74 776.87 L166.13 776.90 L167.53 776.92 L168.92 776.95 L170.31 776.97 L171.71 777.00 L173.10 777.02 L174.49 777.03 L175.89 777.05 L177.28 777.07 L178.68 777.08 L180.07 777.09 L181.46 777.09 L182.86 777.10 L184.25 777.10 L185.65 777.10 L187.04 777.09 L188.43 777.09 L189.83 777.08 L191.22 777.07 L192.61 777.05 L194.01 777.03 L195.40 777.01 L196.80 776.99 L198.19 776.97 L199.58 776.94 L200.98 776.91 L202.37 776.88 L203.76 776.85 L205.16 776.81 L206.55 776.78 L207.95 776.74 L209.34 776.70 L210.73 776.65 L212.13 776.61 L213.52 776.56 L214.91 776.51 L216.31 776.46 L217.70 776.40 L219.10 776.35 L220.49 776.29 L221.88 776.23 L223.28 776.18 L224.67 776.12 L226.07 776.06 L227.46 776.00 L228.85 775.93 L230.25 775.87 L231.64 775.81 L233.03 775.74 L234.43 775.68 L235.82 775.61 L237.22 775.54 L238.61 775.47 L240.00 775.40 L241.40 775.32 L242.79 775.24 L244.18 775.16 L245.58 775.08 L246.97 775.00 L248.37 774.92 L249.76 774.83 L251.15 774.75 L252.55 774.67 L253.94 774.58 L255.33 774.50 L256.73 774.42 L258.12 774.33 L259.52 774.25 L260.91 774.17 L262.30 774.08 L263.70 774.00 L265.09 773.92 L266.48 773.83 L267.88 773.75 L269.27 773.67 L270.67 773.58 L272.06 773.50 L273.45 773.42 L274.85 773.33 L276.24 773.25 L277.64 773.17 L279.03 773.08 L280.42 773.00 L281.82 772.92 L283.21 772.83 L284.60 772.75 L286.00 772.66 L287.39 772.58 L288.79 772.50 L290.18 772.41 L291.57 772.33 L292.97 772.25 L294.36 772.16 L295.75 772.08 L297.15 772.00 L298.54 771.92 L299.94 771.85 L301.33 771.78 L302.72 771.71 L304.12 771.65 L305.51 771.59 L306.90 771.53 L308.30 771.47 L309.69 771.42 L311.09 771.37 L312.48 771.32 L313.87 771.28 L315.27 771.24 L316.66 771.20 L318.06 771.16 L319.45 771.12 L320.84 771.09 L322.24 771.06 L323.63 771.03 L325.02 771.01 L326.42 770.99 L327.81 770.98 L329.21 770.98 L330.60 770.99 L331.99 771.02 L333.39 771.05 L334.78 771.09 L336.17 771.14 L337.57 771.20 L338.96 771.26 L340.36 771.33 L341.75 771.41 L343.14 771.50 L344.54 771.59 L345.93 771.68 L347.32 771.78 L348.72 771.88 L350.11 771.99 L351.51 772.10 L352.90 772.21 L354.29 772.33 L355.69 772.44 L357.08 772.56 L358.47 772.69 L359.87 772.82 L361.26 772.97 L362.66 773.13 L364.05 773.30 L365.44 773.48 L366.84 773.67 L368.23 773.87 L369.63 774.08 L371.02 774.30 L372.41 774.53 L373.81 774.77 L375.20 775.01 L376.59 775.27 L377.99 775.53 L379.38 775.82 L380.78 776.11 L382.17 776.42 L383.56 776.75 L384.96 777.09 L386.35 777.44 L387.74 777.81 L389.14 778.19 L390.53 778.59 L391.93 779.00 L393.32 779.42 L394.71 779.85 L396.11 780.30 L397.50 780.76 L398.89 781.23 L400.29 781.73 L401.68 782.24 L403.08 782.79 L404.47 783.36 L405.86 783.97 L407.26 784.61 L408.65 785.28 L410.05 785.98 L411.44 786.71 L412.83 787.48 L414.23 788.27 L415.62 789.08 L417.01 789.92 L418.41 790.78 L419.80 791.66 L421.20 792.56 L422.59 793.48 L423.98 794.41 L425.38 795.36 L426.77 796.32 L428.16 797.29 L429.56 798.28 L430.95 799.28 L432.35 800.30 L433.74 801.33 L435.13 802.38 L436.53 803.44 L437.92 804.53 L439.31 805.64 L440.71 806.77 L442.10 807.93 L443.50 809.12 L444.89 810.34 L446.28 811.59 L447.68 812.87 L449.07 814.19 L450.46 815.54 L451.86 816.91 L453.25 818.31 L454.65 819.73 L456.04 821.17 L457.43 822.63 L458.83 824.10 L460.22 825.59 L461.62 827.10 L463.01 828.62 L464.40 830.17 L465.80 831.73 L467.19 833.33 L468.58 834.95 L469.98 836.61 L471.37 838.30 L472.77 840.02 L474.16 841.79 L475.55 843.58 L476.95 845.41 L478.34 847.25 L479.73 849.10 L481.13 850.95 L482.52 852.79 L483.92 854.61 L485.31 856.40 L486.70 858.17 L488.10 859.90 L489.49 861.60 L490.88 863.29 L492.28 864.97 L493.67 866.66 L495.07 868.36 L496.46 870.10 L497.85 871.89 L499.25 873.73 L500.64 875.61 L502.04 877.52 L503.43 879.43 L504.82 881.32 L506.22 883.18 L507.61 884.98 L509.00 886.71 L510.40 888.38 L511.79 890.00 L513.19 891.59 L514.58 893.18 L515.97 894.77 L517.37 896.35 L518.76 897.94 L520.15 899.52 L521.55 901.11 L522.94 902.69 L524.34 904.28 L525.73 905.87 L527.12 907.46 L528.52 909.04 L529.91 910.62 L531.30 912.20 L532.70 913.76 L534.09 915.29 L535.49 916.78 L536.88 918.21 L538.27 919.58 L539.67 920.86 L541.06 922.07 L542.45 923.20 L543.85 924.29 L545.24 925.35 L546.64 926.40 L548.03 927.45 L549.42 928.49 L550.82 929.53 L552.21 930.57 L553.61 931.60 L555.00 932.64 L556.39 933.68 L557.79 934.72 L559.18 935.76 L560.57 936.79 L561.97 937.82 L563.36 938.84 L564.76 939.84 L566.15 940.80 L567.54 941.71 L568.94 942.55 L570.33 943.33 L571.72 944.04 L573.12 944.70 L574.51 945.30 L575.91 945.87 L577.30 946.40 L578.69 946.91 L580.09 947.39 L581.48 947.86 L582.87 948.32 L584.27 948.77 L585.66 949.21 L587.06 949.65 L588.45 950.08 L589.84 950.51 L591.24 950.92 L592.63 951.32 L594.03 951.70 L595.42 952.08 L596.81 952.44 L598.21 952.79 L599.60 953.12 L600.99 953.44 L602.39 953.75 L603.78 954.06 L605.18 954.36 L606.57 954.66 L607.96 954.95 L609.36 955.23 L610.75 955.50 L612.14 955.77 L613.54 956.04 L614.93 956.29 L616.33 956.55 L617.72 956.79 L619.11 957.04 L620.51 957.28 L621.90 957.51 L623.29 957.72 L624.69 957.92 L626.08 958.09 L627.48 958.24 L628.87 958.37 L630.26 958.47 L631.66 958.55 L633.05 958.61 L634.44 958.68 L635.84 958.73 L637.23 958.79 L638.63 958.85 L640.02 958.90 L641.41 958.95 L642.81 959.00 L644.20 959.04 L645.60 959.09 L646.99 959.13 L648.38 959.18 L649.78 959.22 L651.17 959.26 L652.56 959.29 L653.96 959.33 L655.35 959.36 L656.75 959.40 L658.14 959.43 L659.53 959.46 L660.93 959.49 L662.32 959.52 L663.71 959.55 L665.11 959.58 L666.50 959.60 L667.90 959.63 L669.29 959.65 L670.68 959.68 L672.08 959.70 L673.47 959.72 L674.86 959.74 L676.26 959.77 L677.65 959.79 L679.05 959.81 L680.44 959.83 L681.83 959.85 L683.23 959.88 L684.62 959.90 L686.02 959.92 L687.41 959.94 L688.80 959.96 L690.20 959.98 L691.59 960.00 L692.98 960.02 L694.38 960.04 L695.77 960.07 L697.17 960.09 L698.56 960.11 L699.95 960.13 L701.35 960.15 L702.74 960.17 L704.13 960.19 L705.53 960.22 L706.92 960.24 L708.32 960.26 L709.71 960.28 L711.10 960.31 L712.50 960.33 L713.89 960.35 L715.28 960.38 L716.68 960.40 L718.07 960.42 L719.47 960.45 L720.86 960.47 L722.25 960.50 L723.65 960.53 L725.04 960.55 L726.43 960.58 L727.83 960.60 L729.22 960.63 L730.62 960.65 L732.01 960.68 L733.40 960.71 L734.80 960.73 L736.19 960.76 L737.59 960.79 L738.98 960.81 L740.37 960.84 L741.77 960.87 L743.16 960.89 L744.55 960.92 L745.95 960.95 L747.34 960.97 L748.74 961.00 L750.13 961.03 L751.52 961.06 L752.92 961.09 L754.31 961.11 L755.70 961.14 L757.10 961.17 L758.49 961.20 L759.89 961.23 L761.28 961.26 L762.67 961.29 L764.07 961.32 L765.46 961.35 L766.85 961.38 L768.25 961.41 L769.64 961.44 L771.04 961.47 L772.43 961.50 L773.82 961.53 L775.22 961.56 L776.61 961.60 L778.01 961.63 L779.40 961.66 L780.79 961.70 L782.19 961.73 L783.58 961.77 L784.97 961.80 L786.37 961.84 L787.76 961.87 L789.16 961.91 L790.55 961.94 L791.94 961.98 L793.34 962.02 L794.73 962.05 L796.12 962.09 L797.52 962.13 L798.91 962.17 L800.31 962.21 L801.70 962.24 L803.09 962.28 L804.49 962.32 L805.88 962.36 L807.27 962.40 L808.67 962.44 L810.06 962.48 L811.46 962.52 L812.85 962.56 L814.24 962.61 L815.64 962.65 L817.03 962.69 L818.42 962.73 L819.82 962.77 L821.21 962.81 L822.61 962.86 L824.00 962.90" fill="none" stroke="#00ff00" stroke-width="5.00" stroke-linejoin="round" stroke-dasharray="6.7 9.5" clip-path="url(#c3)"/>
<path d="M128.50 1257.00 L129.89 1258.01 L131.29 1259.01 L132.68 1259.97 L134.08 1260.90 L135.47 1261.80 L136.86 1262.68 L138.26 1263.56 L139.65 1264.42 L141.04 1265.29 L142.44 1266.17 L143.83 1267.06 L145.23 1267.96 L146.62 1268.88 L148.01 1269.81 L149.41 1270.76 L150.80 1271.71 L152.19 1272.68 L153.59 1273.65 L154.98 1274.63 L156.38 1275.62 L157.77 1276.61 L159.16 1277.62 L160.56 1278.64 L161.95 1279.68 L163.34 1280.73 L164.74 1281.81 L166.13 1282.91 L167.53 1284.04 L168.92 1285.20 L170.31 1286.38 L171.71 1287.60 L173.10 1288.84 L174.49 1290.13 L175.89 1291.45 L177.28 1292.82 L178.68 1294.24 L180.07 1295.70 L181.46 1297.20 L182.86 1298.74 L184.25 1300.32 L185.65 1301.92 L187.04 1303.55 L188.43 1305.20 L189.83 1306.88 L191.22 1308.57 L192.61 1310.29 L194.01 1312.02 L195.40 1313.76 L196.80 1315.52 L198.19 1317.28 L199.58 1319.03 L200.98 1320.78 L202.37 1322.52 L203.76 1324.24 L205.16 1325.95 L206.55 1327.64 L207.95 1329.32 L209.34 1330.99 L210.73 1332.66 L212.13 1334.34 L213.52 1336.04 L214.91 1337.76 L216.31 1339.54 L217.70 1341.36 L219.10 1343.25 L220.49 1345.18 L221.88 1347.16 L223.28 1349.15 L224.67 1351.15 L226.07 1353.13 L227.46 1355.06 L228.85 1356.92 L230.25 1358.70 L231.64 1360.37 L233.03 1361.92 L234.43 1363.32 L235.82 1364.55 L237.22 1365.61 L238.61 1366.49 L240.00 1367.19 L241.40 1367.72 L242.79 1368.08 L244.18 1368.30 L245.58 1368.38 L246.97 1368.33 L248.37 1368.15 L249.76 1367.84 L251.15 1367.39 L252.55 1366.81 L253.94 1366.07 L255.33 1365.17 L256.73 1364.10 L258.12 1362.87 L259.52 1361.52 L260.91 1360.05 L262.30 1358.50 L263.70 1356.87 L265.09 1355.18 L266.48 1353.44 L267.88 1351.67 L269.27 1349.88 L270.67 1348.09 L272.06 1346.30 L273.45 1344.51 L274.85 1342.74 L276.24 1340.97 L277.64 1339.22 L279.03 1337.48 L280.42 1335.76 L281.82 1334.05 L283.21 1332.38 L284.60 1330.75 L286.00 1329.18 L287.39 1327.68 L288.79 1326.25 L290.18 1324.89 L291.57 1323.60 L292.97 1322.36 L294.36 1321.16 L295.75 1319.99 L297.15 1318.82 L298.54 1317.67 L299.94 1316.51 L301.33 1315.36 L302.72 1314.21 L304.12 1313.05 L305.51 1311.90 L306.90 1310.75 L308.30 1309.60 L309.69 1308.47 L311.09 1307.34 L312.48 1306.23 L313.87 1305.15 L315.27 1304.12 L316.66 1303.14 L318.06 1302.22 L319.45 1301.38 L320.84 1300.59 L322.24 1299.86 L323.63 1299.17 L325.02 1298.50 L326.42 1297.84 L327.81 1297.19 L329.21 1296.54 L330.60 1295.89 L331.99 1295.24 L333.39 1294.59 L334.78 1293.95 L336.17 1293.30 L337.57 1292.66 L338.96 1292.03 L340.36 1291.40 L341.75 1290.78 L343.14 1290.17 L344.54 1289.56 L345.93 1288.95 L347.32 1288.35 L348.72 1287.75 L350.11 1287.15 L351.51 1286.54 L352.90 1285.93 L354.29 1285.30 L355.69 1284.66 L357.08 1284.01 L358.47 1283.34 L359.87 1282.65 L361.26 1281.94 L362.66 1281.22 L364.05 1280.48 L365.44 1279.73 L366.84 1278.96 L368.23 1278.19 L369.63 1277.42 L371.02 1276.63 L372.41 1275.85 L373.81 1275.05 L375.20 1274.25 L376.59 1273.42 L377.99 1272.58 L379.38 1271.71 L380.78 1270.82 L382.17 1269.88 L383.56 1268.92 L384.96 1267.91 L386.35 1266.88 L387.74 1265.82 L389.14 1264.74 L390.53 1263.64 L391.93 1262.51 L393.32 1261.37 L394.71 1260.21 L396.11 1259.02 L397.50 1257.80 L398.89 1256.57 L400.29 1255.30 L401.68 1254.01 L403.08 1252.69 L404.47 1251.34 L405.86 1249.96 L407.26 1248.55 L408.65 1247.11 L410.05 1245.63 L411.44 1244.11 L412.83 1242.57 L414.23 1240.99 L415.62 1239.39 L417.01 1237.75 L418.41 1236.09 L419.80 1234.41 L421.20 1232.70 L422.59 1230.98 L423.98 1229.23 L425.38 1227.47 L426.77 1225.70 L428.16 1223.90 L429.56 1222.09 L430.95 1220.25 L432.35 1218.39 L433.74 1216.50 L435.13 1214.57 L436.53 1212.62 L437.92 1210.63 L439.31 1208.60 L440.71 1206.55 L442.10 1204.46 L443.50 1202.35 L444.89 1200.22 L446.28 1198.05 L447.68 1195.86 L449.07 1193.65 L450.46 1191.41 L451.86 1189.16 L453.25 1186.89 L454.65 1184.63 L456.04 1182.36 L457.43 1180.09 L458.83 1177.81 L460.22 1175.54 L461.62 1173.27 L463.01 1171.00 L464.40 1168.73 L465.80 1166.46 L467.19 1164.19 L468.58 1161.92 L469.98 1159.65 L471.37 1157.39 L472.77 1155.14 L474.16 1152.90 L475.55 1150.67 L476.95 1148.45 L478.34 1146.22 L479.73 1144.00 L481.13 1141.77 L482.52 1139.54 L483.92 1137.30 L485.31 1135.06 L486.70 1132.82 L488.10 1130.60 L489.49 1128.40 L490.88 1126.23 L492.28 1124.08 L493.67 1121.97 L495.07 1119.86 L496.46 1117.74 L497.85 1115.58 L499.25 1113.38 L500.64 1111.13 L502.04 1108.86 L503.43 1106.58 L504.82 1104.32 L506.22 1102.10 L507.61 1099.92 L509.00 1097.80 L510.40 1095.73 L511.79 1093.69 L513.19 1091.70 L514.58 1089.73 L515.97 1087.79 L517.37 1085.88 L518.76 1084.00 L520.15 1082.15 L521.55 1080.34 L522.94 1078.57 L524.34 1076.83 L525.73 1075.13 L527.12 1073.46 L528.52 1071.83 L529.91 1070.21 L531.30 1068.63 L532.70 1067.06 L534.09 1065.52 L535.49 1064.02 L536.88 1062.55 L538.27 1061.13 L539.67 1059.76 L541.06 1058.43 L542.45 1057.15 L543.85 1055.91 L545.24 1054.71 L546.64 1053.53 L548.03 1052.37 L549.42 1051.23 L550.82 1050.12 L552.21 1049.02 L553.61 1047.94 L555.00 1046.89 L556.39 1045.87 L557.79 1044.89 L559.18 1043.97 L560.57 1043.12 L561.97 1042.36 L563.36 1041.70 L564.76 1041.15 L566.15 1040.71 L567.54 1040.38 L568.94 1040.15 L570.33 1039.98 L571.72 1039.87 L573.12 1039.80 L574.51 1039.77 L575.91 1039.77 L577.30 1039.79 L578.69 1039.84 L580.09 1039.92 L581.48 1040.04 L582.87 1040.19 L584.27 1040.39 L585.66 1040.68 L587.06 1041.06 L588.45 1041.57 L589.84 1042.23 L591.24 1043.04 L592.63 1044.00 L594.03 1045.09 L595.42 1046.28 L596.81 1047.53 L598.21 1048.80 L599.60 1050.05 L600.99 1051.26 L602.39 1052.43 L603.78 1053.59 L605.18 1054.81 L606.57 1056.16 L607.96 1057.68 L609.36 1059.38 L610.75 1061.22 L612.14 1063.15 L613.54 1065.11 L614.93 1067.08 L616.33 1069.05 L617.72 1071.06 L619.11 1073.11 L620.51 1075.20 L621.90 1077.31 L623.29 1079.41 L624.69 1081.47 L626.08 1083.50 L627.48 1085.53 L628.87 1087.63 L630.26 1089.82 L631.66 1092.12 L633.05 1094.52 L634.44 1097.00 L635.84 1099.53 L637.23 1102.09 L638.63 1104.67 L640.02 1107.27 L641.41 1109.91 L642.81 1112.61 L644.20 1115.38 L645.60 1118.24 L646.99 1121.17 L648.38 1124.13 L649.78 1127.09 L651.17 1130.04 L652.56 1132.97 L653.96 1135.90 L655.35 1138.83 L656.75 1141.76 L658.14 1144.69 L659.53 1147.59 L660.93 1150.46 L662.32 1153.30 L663.71 1156.11 L665.11 1158.90 L666.50 1161.65 L667.90 1164.39 L669.29 1167.11 L670.68 1169.82 L672.08 1172.52 L673.47 1175.21 L674.86 1177.89 L676.26 1180.56 L677.65 1183.22 L679.05 1185.88 L680.44 1188.53 L681.83 1191.17 L683.23 1193.80 L684.62 1196.42 L686.02 1199.04 L687.41 1201.65 L688.80 1204.28 L690.20 1206.93 L691.59 1209.61 L692.98 1212.34 L694.38 1215.10 L695.77 1217.87 L697.17 1220.63 L698.56 1223.33 L699.95 1225.95 L701.35 1228.46 L702.74 1230.85 L704.13 1233.13 L705.53 1235.31 L706.92 1237.41 L708.32 1239.42 L709.71 1241.37 L711.10 1243.25 L712.50 1245.05 L713.89 1246.80 L715.28 1248.48 L716.68 1250.10 L718.07 1251.66 L719.47 1253.18 L720.86 1254.64 L722.25 1256.04 L723.65 1257.39 L725.04 1258.69 L726.43 1259.94 L727.83 1261.13 L729.22 1262.26 L730.62 1263.35 L732.01 1264.38 L733.40 1265.36 L734.80 1266.29 L736.19 1267.16 L737.59 1267.97 L738.98 1268.74 L740.37 1269.47 L741.77 1270.16 L743.16 1270.82 L744.55 1271.44 L745.95 1272.02 L747.34 1272.57 L748.74 1273.09 L750.13 1273.59 L751.52 1274.06 L752.92 1274.51 L754.31 1274.95 L755.70 1275.36 L757.10 1275.76 L758.49 1276.15 L759.89 1276.51 L761.28 1276.86 L762.67 1277.20 L764.07 1277.51 L765.46 1277.80 L766.85 1278.08 L768.25 1278.32 L769.64 1278.55 L771.04 1278.76 L772.43 1278.95 L773.82 1279.13 L775.22 1279.30 L776.61 1279.45 L778.01 1279.60 L779.40 1279.73 L780.79 1279.85 L782.19 1279.96 L783.58 1280.05 L784.97 1280.13 L786.37 1280.21 L787.76 1280.28 L789.16 1280.35 L790.55 1280.42 L791.94 1280.48 L793.34 1280.55 L794.73 1280.61 L796.12 1280.67 L797.52 1280.73 L798.91 1280.80 L800.31 1280.86 L801.70 1280.92 L803.09 1280.97 L804.49 1281.03 L805.88 1281.09 L807.27 1281.15 L808.67 1281.20 L810.06 1281.25 L811.46 1281.30 L812.85 1281.35 L814.24 1281.39 L815.64 1281.43 L817.03 1281.46 L818.42 1281.50 L819.82 1281.52 L821.21 1281.55 L822.61 1281.58 L824.00 1281.60" fill="none" stroke="#ff0000" stroke-width="5.00" stroke-linejoin="round" clip-path="url(#c4)"/>
<path d="M462.71 1171.49 L463.48 1170.22 L464.26 1168.96 L465.03 1167.70 L465.81 1166.44 L466.58 1165.18 L467.35 1163.92 L468.13 1162.66 L468.90 1161.40 L469.67 1160.15 L470.45 1158.89 L471.22 1157.64 L471.99 1156.39 L472.77 1155.14 L473.54 1153.89 L474.32 1152.65 L475.09 1151.41 L475.86 1150.18 L476.64 1148.94 L477.41 1147.71 L478.18 1146.47 L478.96 1145.24 L479.73 1144.01 L480.51 1142.77 L481.28 1141.53 L482.05 1140.29 L482.83 1139.05 L483.60 1137.81 L484.37 1136.57 L485.15 1135.32 L485.92 1134.08 L486.69 1132.84 L487.47 1131.60 L488.24 1130.37 L489.02 1129.15 L489.79 1127.93 L490.56 1126.73 L491.34 1125.53 L492.11 1124.34 L492.88 1123.16 L493.66 1121.99 L494.43 1120.82 L495.20 1119.65 L495.98 1118.47 L496.75 1117.29 L497.53 1116.09 L498.30 1114.88 L499.07 1113.66 L499.85 1112.42 L500.62 1111.17 L501.39 1109.91 L502.17 1108.64 L502.94 1107.38 L503.71 1106.11 L504.49 1104.86 L505.26 1103.61 L506.04 1102.38 L506.81 1101.17 L507.58 1099.97 L508.36 1098.78 L509.13 1097.61 L509.90 1096.46 L510.68 1095.32 L511.45 1094.19 L512.22 1093.07 L513.00 1091.96 L513.77 1090.86 L514.55 1089.78 L515.32 1088.70 L516.09 1087.62 L516.87 1086.56 L517.64 1085.51 L518.41 1084.47 L519.19 1083.43 L519.96 1082.41 L520.73 1081.39 L521.51 1080.39 L522.28 1079.40 L523.06 1078.42 L523.83 1077.46 L524.60 1076.50 L525.38 1075.56 L526.15 1074.62 L526.92 1073.70 L527.70 1072.79 L528.47 1071.88 L529.24 1070.98 L530.02 1070.09 L530.79 1069.21 L531.57 1068.33 L532.34 1067.46 L533.11 1066.60 L533.89 1065.75 L534.66 1064.91 L535.43 1064.07 L536.21 1063.25 L536.98 1062.45 L537.75 1061.65 L538.53 1060.88 L539.30 1060.11 L540.08 1059.36 L540.85 1058.63 L541.62 1057.91 L542.40 1057.21 L543.17 1056.51 L543.94 1055.83 L544.72 1055.16 L545.49 1054.49 L546.26 1053.84 L547.04 1053.19 L547.81 1052.55 L548.59 1051.92 L549.36 1051.29 L550.13 1050.66 L550.91 1050.05 L551.68 1049.44 L552.45 1048.83 L553.23 1048.23 L554.00 1047.64 L554.77 1047.06 L555.55 1046.48 L556.32 1045.92 L557.10 1045.37 L557.87 1044.83 L558.64 1044.32 L559.42 1043.82 L560.19 1043.35 L560.96 1042.90 L561.74 1042.48 L562.51 1042.09 L563.28 1041.73 L564.06 1041.41 L564.83 1041.12 L565.61 1040.87" fill="none" stroke="#ff0000" stroke-width="6.20" stroke-linejoin="round" stroke-linecap="butt" clip-path="url(#c4)"/>
<path d="M698.67 1223.55 L699.44 1225.01 L700.22 1226.44 L700.99 1227.83 L701.77 1229.19 L702.54 1230.51 L703.31 1231.80 L704.09 1233.06 L704.86 1234.28 L705.63 1235.48 L706.41 1236.65 L707.18 1237.79 L707.95 1238.91 L708.73 1240.01 L709.50 1241.09 L710.28 1242.14 L711.05 1243.18 L711.82 1244.19 L712.60 1245.18 L713.37 1246.15 L714.14 1247.11 L714.92 1248.04 L715.69 1248.96 L716.46 1249.85 L717.24 1250.73 L718.01 1251.60 L718.79 1252.44 L719.56 1253.28 L720.33 1254.09 L721.11 1254.89 L721.88 1255.67 L722.65 1256.44 L723.43 1257.18 L724.20 1257.92 L724.97 1258.63 L725.75 1259.33 L726.52 1260.01 L727.30 1260.68 L728.07 1261.33 L728.84 1261.96 L729.62 1262.58 L730.39 1263.18 L731.16 1263.76 L731.94 1264.33 L732.71 1264.88 L733.48 1265.42 L734.26 1265.94 L735.03 1266.44 L735.81 1266.92 L736.58 1267.39 L737.35 1267.84 L738.13 1268.28 L738.90 1268.70 L739.67 1269.11 L740.45 1269.51 L741.22 1269.90 L741.99 1270.27 L742.77 1270.64 L743.54 1270.99 L744.32 1271.33 L745.09 1271.67 L745.86 1271.99 L746.64 1272.30 L747.41 1272.60 L748.18 1272.89 L748.96 1273.17 L749.73 1273.45 L750.50 1273.72 L751.28 1273.98 L752.05 1274.24 L752.83 1274.49 L753.60 1274.73 L754.37 1274.97 L755.15 1275.20 L755.92 1275.43 L756.69 1275.65 L757.47 1275.87 L758.24 1276.08 L759.01 1276.28 L759.79 1276.49 L760.56 1276.68 L761.34 1276.88 L762.11 1277.06 L762.88 1277.25 L763.66 1277.42 L764.43 1277.59 L765.20 1277.75 L765.98 1277.91 L766.75 1278.06 L767.52 1278.20 L768.30 1278.33 L769.07 1278.46 L769.85 1278.58 L770.62 1278.70 L771.39 1278.81 L772.17 1278.92 L772.94 1279.02 L773.71 1279.12 L774.49 1279.21" fill="none" stroke="#ff0000" stroke-width="5.80" stroke-linejoin="round" stroke-linecap="butt" clip-path="url(#c4)"/>
<path d="M128.50 1257.00 L129.89 1258.05 L131.29 1259.06 L132.68 1260.02 L134.08 1260.93 L135.47 1261.82 L136.86 1262.69 L138.26 1263.56 L139.65 1264.42 L141.04 1265.29 L142.44 1266.16 L143.83 1267.04 L145.23 1267.94 L146.62 1268.86 L148.01 1269.80 L149.41 1270.75 L150.80 1271.70 L152.19 1272.67 L153.59 1273.64 L154.98 1274.62 L156.38 1275.61 L157.77 1276.60 L159.16 1277.61 L160.56 1278.62 L161.95 1279.65 L163.34 1280.70 L164.74 1281.78 L166.13 1282.88 L167.53 1284.01 L168.92 1285.16 L170.31 1286.35 L171.71 1287.56 L173.10 1288.80 L174.49 1290.08 L175.89 1291.40 L177.28 1292.76 L178.68 1294.18 L180.07 1295.64 L181.46 1297.15 L182.86 1298.70 L184.25 1300.28 L185.65 1301.89 L187.04 1303.52 L188.43 1305.17 L189.83 1306.85 L191.22 1308.54 L192.61 1310.26 L194.01 1312.00 L195.40 1313.75 L196.80 1315.51 L198.19 1317.28 L199.58 1319.04 L200.98 1320.80 L202.37 1322.54 L203.76 1324.27 L205.16 1325.97 L206.55 1327.66 L207.95 1329.33 L209.34 1330.99 L210.73 1332.65 L212.13 1334.32 L213.52 1336.00 L214.91 1337.71 L216.31 1339.46 L217.70 1341.28 L219.10 1343.17 L220.49 1345.12 L221.88 1347.13 L223.28 1349.15 L224.67 1351.18 L226.07 1353.19 L227.46 1355.15 L228.85 1357.04 L230.25 1358.84 L231.64 1360.53 L233.03 1362.10 L234.43 1363.53 L235.82 1364.79 L237.22 1365.86 L238.61 1366.73 L240.00 1367.41 L241.40 1367.91 L242.79 1368.27 L244.18 1368.48 L245.58 1368.56 L246.97 1368.49 L248.37 1368.30 L249.76 1367.99 L251.15 1367.57 L252.55 1367.01 L253.94 1366.30 L255.33 1365.40 L256.73 1364.30 L258.12 1363.04 L259.52 1361.65 L260.91 1360.16 L262.30 1358.59 L263.70 1356.95 L265.09 1355.24 L266.48 1353.48 L267.88 1351.69 L269.27 1349.89 L270.67 1348.08 L272.06 1346.29 L273.45 1344.50 L274.85 1342.72 L276.24 1340.96 L277.64 1339.21 L279.03 1337.46 L280.42 1335.73 L281.82 1334.02 L283.21 1332.33 L284.60 1330.68 L286.00 1329.09 L287.39 1327.58 L288.79 1326.14 L290.18 1324.80 L291.57 1323.53 L292.97 1322.32 L294.36 1321.14 L295.75 1319.97 L297.15 1318.82 L298.54 1317.66 L299.94 1316.51 L301.33 1315.36 L302.72 1314.21 L304.12 1313.05 L305.51 1311.90 L306.90 1310.74 L308.30 1309.60 L309.69 1308.45 L311.09 1307.32 L312.48 1306.20 L313.87 1305.10 L315.27 1304.04 L316.66 1303.05 L318.06 1302.13 L319.45 1301.29 L320.84 1300.53 L322.24 1299.81 L323.63 1299.14 L325.02 1298.49 L326.42 1297.84 L327.81 1297.19 L329.21 1296.54 L330.60 1295.89 L331.99 1295.24 L333.39 1294.59 L334.78 1293.94 L336.17 1293.30 L337.57 1292.66 L338.96 1292.02 L340.36 1291.40 L341.75 1290.78 L343.14 1290.17 L344.54 1289.57 L345.93 1288.97 L347.32 1288.38 L348.72 1287.79 L350.11 1287.19 L351.51 1286.59 L352.90 1285.98 L354.29 1285.35 L355.69 1284.70 L357.08 1284.04 L358.47 1283.35 L359.87 1282.65 L361.26 1281.92 L362.66 1281.19 L364.05 1280.44 L365.44 1279.68 L366.84 1278.92 L368.23 1278.15 L369.63 1277.39 L371.02 1276.62 L372.41 1275.86 L373.81 1275.10 L375.20 1274.34 L376.59 1273.56 L377.99 1272.76 L379.38 1271.92 L380.78 1271.02 L382.17 1270.05 L383.56 1269.01 L384.96 1267.90 L386.35 1266.75 L387.74 1265.58 L389.14 1264.39 L390.53 1263.20 L391.93 1262.01 L393.32 1260.81 L394.71 1259.59 L396.11 1258.36 L397.50 1257.11 L398.89 1255.85 L400.29 1254.55 L401.68 1253.23 L403.08 1251.88 L404.47 1250.49 L405.86 1249.07 L407.26 1247.62 L408.65 1246.13 L410.05 1244.62 L411.44 1243.06 L412.83 1241.48 L414.23 1239.86 L415.62 1238.21 L417.01 1236.53 L418.41 1234.81 L419.80 1233.07 L421.20 1231.31 L422.59 1229.53 L423.98 1227.74 L425.38 1225.92 L426.77 1224.08 L428.16 1222.21 L429.56 1220.32 L430.95 1218.40 L432.35 1216.47 L433.74 1214.54 L435.13 1212.62 L436.53 1210.73 L437.92 1208.88 L439.31 1207.05 L440.71 1205.24 L442.10 1203.45 L443.50 1201.65 L444.89 1199.86 L446.28 1198.06 L447.68 1196.27 L449.07 1194.47 L450.46 1192.67 L451.86 1190.86 L453.25 1189.05 L454.65 1187.23 L456.04 1185.39 L457.43 1183.50 L458.83 1181.51 L460.22 1179.36 L461.62 1177.06 L463.01 1174.66 L464.40 1172.24 L465.80 1169.88 L467.19 1167.62 L468.58 1165.45 L469.98 1163.33 L471.37 1161.24 L472.77 1159.15 L474.16 1157.06 L475.55 1154.97 L476.95 1152.88 L478.34 1150.80 L479.73 1148.71 L481.13 1146.63 L482.52 1144.55 L483.92 1142.46 L485.31 1140.38 L486.70 1138.29 L488.10 1136.21 L489.49 1134.15 L490.88 1132.12 L492.28 1130.13 L493.67 1128.21 L495.07 1126.37 L496.46 1124.60 L497.85 1122.90 L499.25 1121.26 L500.64 1119.66 L502.04 1118.09 L503.43 1116.56 L504.82 1115.03 L506.22 1113.51 L507.61 1112.00 L509.00 1110.47 L510.40 1108.93 L511.79 1107.39 L513.19 1105.86 L514.58 1104.33 L515.97 1102.82 L517.37 1101.33 L518.76 1099.86 L520.15 1098.44 L521.55 1097.09 L522.94 1095.85 L524.34 1094.74 L525.73 1093.77 L527.12 1092.91 L528.52 1092.14 L529.91 1091.44 L531.30 1090.79 L532.70 1090.17 L534.09 1089.59 L535.49 1089.04 L536.88 1088.54 L538.27 1088.10 L539.67 1087.71 L541.06 1087.38 L542.45 1087.10 L543.85 1086.88 L545.24 1086.72 L546.64 1086.61 L548.03 1086.56 L549.42 1086.58 L550.82 1086.67 L552.21 1086.84 L553.61 1087.09 L555.00 1087.44 L556.39 1087.89 L557.79 1088.44 L559.18 1089.10 L560.57 1089.87 L561.97 1090.77 L563.36 1091.78 L564.76 1092.89 L566.15 1094.09 L567.54 1095.37 L568.94 1096.73 L570.33 1098.16 L571.72 1099.66 L573.12 1101.24 L574.51 1102.88 L575.91 1104.57 L577.30 1106.29 L578.69 1108.05 L580.09 1109.83 L581.48 1111.64 L582.87 1113.49 L584.27 1115.38 L585.66 1117.29 L587.06 1119.24 L588.45 1121.22 L589.84 1123.24 L591.24 1125.33 L592.63 1127.48 L594.03 1129.71 L595.42 1132.01 L596.81 1134.35 L598.21 1136.74 L599.60 1139.14 L600.99 1141.57 L602.39 1144.01 L603.78 1146.47 L605.18 1148.96 L606.57 1151.48 L607.96 1154.04 L609.36 1156.64 L610.75 1159.25 L612.14 1161.88 L613.54 1164.50 L614.93 1167.10 L616.33 1169.70 L617.72 1172.29 L619.11 1174.87 L620.51 1177.47 L621.90 1180.07 L623.29 1182.71 L624.69 1185.37 L626.08 1188.06 L627.48 1190.73 L628.87 1193.38 L630.26 1195.99 L631.66 1198.56 L633.05 1201.08 L634.44 1203.58 L635.84 1206.04 L637.23 1208.49 L638.63 1210.91 L640.02 1213.32 L641.41 1215.71 L642.81 1218.08 L644.20 1220.43 L645.60 1222.76 L646.99 1225.04 L648.38 1227.28 L649.78 1229.47 L651.17 1231.59 L652.56 1233.65 L653.96 1235.62 L655.35 1237.53 L656.75 1239.35 L658.14 1241.11 L659.53 1242.81 L660.93 1244.46 L662.32 1246.07 L663.71 1247.63 L665.11 1249.16 L666.50 1250.64 L667.90 1252.08 L669.29 1253.48 L670.68 1254.84 L672.08 1256.15 L673.47 1257.42 L674.86 1258.66 L676.26 1259.85 L677.65 1261.00 L679.05 1262.11 L680.44 1263.18 L681.83 1264.21 L683.23 1265.20 L684.62 1266.15 L686.02 1267.06 L687.41 1267.94 L688.80 1268.77 L690.20 1269.57 L691.59 1270.33 L692.98 1271.04 L694.38 1271.71 L695.77 1272.33 L697.17 1272.91 L698.56 1273.45 L699.95 1273.97 L701.35 1274.45 L702.74 1274.92 L704.13 1275.35 L705.53 1275.76 L706.92 1276.13 L708.32 1276.47 L709.71 1276.78 L711.10 1277.05 L712.50 1277.30 L713.89 1277.53 L715.28 1277.75 L716.68 1277.96 L718.07 1278.17 L719.47 1278.37 L720.86 1278.56 L722.25 1278.75 L723.65 1278.92 L725.04 1279.08 L726.43 1279.23 L727.83 1279.37 L729.22 1279.50 L730.62 1279.62 L732.01 1279.73 L733.40 1279.85 L734.80 1279.96 L736.19 1280.07 L737.59 1280.18 L738.98 1280.28 L740.37 1280.38 L741.77 1280.46 L743.16 1280.54 L744.55 1280.61 L745.95 1280.67 L747.34 1280.73 L748.74 1280.77 L750.13 1280.82 L751.52 1280.87 L752.92 1280.91 L754.31 1280.95 L755.70 1281.00 L757.10 1281.04 L758.49 1281.08 L759.89 1281.11 L761.28 1281.15 L762.67 1281.19 L764.07 1281.22 L765.46 1281.25 L766.85 1281.28 L768.25 1281.31 L769.64 1281.34 L771.04 1281.37 L772.43 1281.39 L773.82 1281.42 L775.22 1281.44 L776.61 1281.46 L778.01 1281.48 L779.40 1281.49 L780.79 1281.51 L782.19 1281.52 L783.58 1281.54 L784.97 1281.55 L786.37 1281.56 L787.76 1281.58 L789.16 1281.59 L790.55 1281.60 L791.94 1281.61 L793.34 1281.62 L794.73 1281.64 L796.12 1281.65 L797.52 1281.66 L798.91 1281.67 L800.31 1281.67 L801.70 1281.68 L803.09 1281.69 L804.49 1281.70 L805.88 1281.70 L807.27 1281.71 L808.67 1281.71 L810.06 1281.72 L811.46 1281.72 L812.85 1281.72 L814.24 1281.72 L815.64 1281.72 L817.03 1281.72 L818.42 1281.72 L819.82 1281.72 L821.21 1281.71 L822.61 1281.71 L824.00 1281.70" fill="none" stroke="#00ff00" stroke-width="5.00" stroke-linejoin="round" stroke-dasharray="6.7 9.5" clip-path="url(#c4)"/>
<path d="M139.24 348.26 L139.24 338.26 M148.60 348.26 L148.60 328.26 M210.18 348.26 L210.18 338.26 M246.20 348.26 L246.20 338.26 M271.75 348.26 L271.75 338.26 M291.57 348.26 L291.57 338.26 M307.77 348.26 L307.77 338.26 M321.46 348.26 L321.46 338.26 M333.33 348.26 L333.33 338.26 M343.79 348.26 L343.79 338.26 M353.15 348.26 L353.15 328.26 M414.73 348.26 L414.73 338.26 M450.75 348.26 L450.75 338.26 M476.30 348.26 L476.30 338.26 M496.12 348.26 L496.12 338.26 M512.32 348.26 L512.32 338.26 M526.01 348.26 L526.01 338.26 M537.88 348.26 L537.88 338.26 M548.34 348.26 L548.34 338.26 M557.70 348.26 L557.70 328.26 M619.28 348.26 L619.28 338.26 M655.30 348.26 L655.30 338.26 M680.85 348.26 L680.85 338.26 M700.67 348.26 L700.67 338.26 M716.87 348.26 L716.87 338.26 M730.56 348.26 L730.56 338.26 M742.43 348.26 L742.43 338.26 M752.89 348.26 L752.89 338.26 M762.25 348.26 L762.25 328.26 M139.24 688.77 L139.24 678.77 M148.60 688.77 L148.60 668.77 M210.18 688.77 L210.18 678.77 M246.20 688.77 L246.20 678.77 M271.75 688.77 L271.75 678.77 M291.57 688.77 L291.57 678.77 M307.77 688.77 L307.77 678.77 M321.46 688.77 L321.46 678.77 M333.33 688.77 L333.33 678.77 M343.79 688.77 L343.79 678.77 M353.15 688.77 L353.15 668.77 M414.73 688.77 L414.73 678.77 M450.75 688.77 L450.75 678.77 M476.30 688.77 L476.30 678.77 M496.12 688.77 L496.12 678.77 M512.32 688.77 L512.32 678.77 M526.01 688.77 L526.01 678.77 M537.88 688.77 L537.88 678.77 M548.34 688.77 L548.34 678.77 M557.70 688.77 L557.70 668.77 M619.28 688.77 L619.28 678.77 M655.30 688.77 L655.30 678.77 M680.85 688.77 L680.85 678.77 M700.67 688.77 L700.67 678.77 M716.87 688.77 L716.87 678.77 M730.56 688.77 L730.56 678.77 M742.43 688.77 L742.43 678.77 M752.89 688.77 L752.89 678.77 M762.25 688.77 L762.25 668.77 M139.24 1029.29 L139.24 1019.29 M148.60 1029.29 L148.60 1009.29 M210.18 1029.29 L210.18 1019.29 M246.20 1029.29 L246.20 1019.29 M271.75 1029.29 L271.75 1019.29 M291.57 1029.29 L291.57 1019.29 M307.77 1029.29 L307.77 1019.29 M321.46 1029.29 L321.46 1019.29 M333.33 1029.29 L333.33 1019.29 M343.79 1029.29 L343.79 1019.29 M353.15 1029.29 L353.15 1009.29 M414.73 1029.29 L414.73 1019.29 M450.75 1029.29 L450.75 1019.29 M476.30 1029.29 L476.30 1019.29 M496.12 1029.29 L496.12 1019.29 M512.32 1029.29 L512.32 1019.29 M526.01 1029.29 L526.01 1019.29 M537.88 1029.29 L537.88 1019.29 M548.34 1029.29 L548.34 1019.29 M557.70 1029.29 L557.70 1009.29 M619.28 1029.29 L619.28 1019.29 M655.30 1029.29 L655.30 1019.29 M680.85 1029.29 L680.85 1019.29 M700.67 1029.29 L700.67 1019.29 M716.87 1029.29 L716.87 1019.29 M730.56 1029.29 L730.56 1019.29 M742.43 1029.29 L742.43 1019.29 M752.89 1029.29 L752.89 1019.29 M762.25 1029.29 L762.25 1009.29 M139.24 1369.80 L139.24 1359.80 M148.60 1369.80 L148.60 1349.80 M210.18 1369.80 L210.18 1359.80 M246.20 1369.80 L246.20 1359.80 M271.75 1369.80 L271.75 1359.80 M291.57 1369.80 L291.57 1359.80 M307.77 1369.80 L307.77 1359.80 M321.46 1369.80 L321.46 1359.80 M333.33 1369.80 L333.33 1359.80 M343.79 1369.80 L343.79 1359.80 M353.15 1369.80 L353.15 1349.80 M414.73 1369.80 L414.73 1359.80 M450.75 1369.80 L450.75 1359.80 M476.30 1369.80 L476.30 1359.80 M496.12 1369.80 L496.12 1359.80 M512.32 1369.80 L512.32 1359.80 M526.01 1369.80 L526.01 1359.80 M537.88 1369.80 L537.88 1359.80 M548.34 1369.80 L548.34 1359.80 M557.70 1369.80 L557.70 1349.80 M619.28 1369.80 L619.28 1359.80 M655.30 1369.80 L655.30 1359.80 M680.85 1369.80 L680.85 1359.80 M700.67 1369.80 L700.67 1359.80 M716.87 1369.80 L716.87 1359.80 M730.56 1369.80 L730.56 1359.80 M742.43 1369.80 L742.43 1359.80 M752.89 1369.80 L752.89 1359.80 M762.25 1369.80 L762.25 1349.80 M128.55 299.62 L148.55 299.62 M823.60 299.62 L803.60 299.62 M128.55 284.97 L138.55 284.97 M823.60 284.97 L813.60 284.97 M128.55 265.62 L138.55 265.62 M823.60 265.62 L813.60 265.62 M128.55 255.69 L138.55 255.69 M823.60 255.69 L813.60 255.69 M128.55 250.97 L148.55 250.97 M823.60 250.97 L803.60 250.97 M128.55 236.33 L138.55 236.33 M823.60 236.33 L813.60 236.33 M128.55 216.97 L138.55 216.97 M823.60 216.97 L813.60 216.97 M128.55 207.04 L138.55 207.04 M823.60 207.04 L813.60 207.04 M128.55 202.33 L148.55 202.33 M823.60 202.33 L803.60 202.33 M128.55 187.69 L138.55 187.69 M823.60 187.69 L813.60 187.69 M128.55 168.33 L138.55 168.33 M823.60 168.33 L813.60 168.33 M128.55 158.40 L138.55 158.40 M823.60 158.40 L813.60 158.40 M128.55 153.68 L148.55 153.68 M823.60 153.68 L803.60 153.68 M128.55 139.04 L138.55 139.04 M823.60 139.04 L813.60 139.04 M128.55 119.68 L138.55 119.68 M823.60 119.68 L813.60 119.68 M128.55 109.75 L138.55 109.75 M823.60 109.75 L813.60 109.75 M128.55 105.04 L148.55 105.04 M823.60 105.04 L803.60 105.04 M128.55 90.40 L138.55 90.40 M823.60 90.40 L813.60 90.40 M128.55 71.04 L138.55 71.04 M823.60 71.04 L813.60 71.04 M128.55 61.11 L138.55 61.11 M823.60 61.11 L813.60 61.11 M128.55 56.39 L148.55 56.39 M823.60 56.39 L803.60 56.39 M128.55 41.75 L138.55 41.75 M823.60 41.75 L813.60 41.75 M128.55 22.39 L138.55 22.39 M823.60 22.39 L813.60 22.39 M128.55 12.46 L138.55 12.46 M823.60 12.46 L813.60 12.46 M128.55 599.75 L148.55 599.75 M823.60 599.75 L803.60 599.75 M128.55 548.50 L138.55 548.50 M823.60 548.50 L813.60 548.50 M128.55 518.52 L138.55 518.52 M823.60 518.52 L813.60 518.52 M128.55 497.25 L138.55 497.25 M823.60 497.25 L813.60 497.25 M128.55 480.75 L138.55 480.75 M823.60 480.75 L813.60 480.75 M128.55 467.27 L138.55 467.27 M823.60 467.27 L813.60 467.27 M128.55 455.87 L138.55 455.87 M823.60 455.87 L813.60 455.87 M128.55 445.99 L138.55 445.99 M823.60 445.99 L813.60 445.99 M128.55 437.29 L138.55 437.29 M823.60 437.29 L813.60 437.29 M128.55 429.50 L148.55 429.50 M823.60 429.50 L803.60 429.50 M128.55 378.24 L138.55 378.24 M823.60 378.24 L813.60 378.24 M128.55 1023.43 L138.55 1023.43 M823.60 1023.43 L813.60 1023.43 M128.55 1018.48 L138.55 1018.48 M823.60 1018.48 L813.60 1018.48 M128.55 1014.18 L138.55 1014.18 M823.60 1014.18 L813.60 1014.18 M128.55 1010.40 L138.55 1010.40 M823.60 1010.40 L813.60 1010.40 M128.55 1007.01 L148.55 1007.01 M823.60 1007.01 L803.60 1007.01 M128.55 984.74 L138.55 984.74 M823.60 984.74 L813.60 984.74 M128.55 971.71 L138.55 971.71 M823.60 971.71 L813.60 971.71 M128.55 962.47 L138.55 962.47 M823.60 962.47 L813.60 962.47 M128.55 955.30 L138.55 955.30 M823.60 955.30 L813.60 955.30 M128.55 949.44 L138.55 949.44 M823.60 949.44 L813.60 949.44 M128.55 944.48 L138.55 944.48 M823.60 944.48 L813.60 944.48 M128.55 940.19 L138.55 940.19 M823.60 940.19 L813.60 940.19 M128.55 936.41 L138.55 936.41 M823.60 936.41 L813.60 936.41 M128.55 933.02 L148.55 933.02 M823.60 933.02 L803.60 933.02 M128.55 910.75 L138.55 910.75 M823.60 910.75 L813.60 910.75 M128.55 897.72 L138.55 897.72 M823.60 897.72 L813.60 897.72 M128.55 888.48 L138.55 888.48 M823.60 888.48 L813.60 888.48 M128.55 881.30 L138.55 881.30 M823.60 881.30 L813.60 881.30 M128.55 875.45 L138.55 875.45 M823.60 875.45 L813.60 875.45 M128.55 870.49 L138.55 870.49 M823.60 870.49 L813.60 870.49 M128.55 866.20 L138.55 866.20 M823.60 866.20 L813.60 866.20 M128.55 862.42 L138.55 862.42 M823.60 862.42 L813.60 862.42 M128.55 859.03 L148.55 859.03 M823.60 859.03 L803.60 859.03 M128.55 836.76 L138.55 836.76 M823.60 836.76 L813.60 836.76 M128.55 823.73 L138.55 823.73 M823.60 823.73 L813.60 823.73 M128.55 814.48 L138.55 814.48 M823.60 814.48 L813.60 814.48 M128.55 807.31 L138.55 807.31 M823.60 807.31 L813.60 807.31 M128.55 801.45 L138.55 801.45 M823.60 801.45 L813.60 801.45 M128.55 796.50 L138.55 796.50 M823.60 796.50 L813.60 796.50 M128.55 792.21 L138.55 792.21 M823.60 792.21 L813.60 792.21 M128.55 788.43 L138.55 788.43 M823.60 788.43 L813.60 788.43 M128.55 785.04 L148.55 785.04 M823.60 785.04 L803.60 785.04 M128.55 762.77 L138.55 762.77 M823.60 762.77 L813.60 762.77 M128.55 749.74 L138.55 749.74 M823.60 749.74 L813.60 749.74 M128.55 740.49 L138.55 740.49 M823.60 740.49 L813.60 740.49 M128.55 733.32 L138.55 733.32 M823.60 733.32 L813.60 733.32 M128.55 727.46 L138.55 727.46 M823.60 727.46 L813.60 727.46 M128.55 722.51 L138.55 722.51 M823.60 722.51 L813.60 722.51 M128.55 718.22 L138.55 718.22 M823.60 718.22 L813.60 718.22 M128.55 714.43 L138.55 714.43 M823.60 714.43 L813.60 714.43 M128.55 711.05 L148.55 711.05 M823.60 711.05 L803.60 711.05 M128.55 1360.81 L138.55 1360.81 M823.60 1360.81 L813.60 1360.81 M128.55 1353.21 L138.55 1353.21 M823.60 1353.21 L813.60 1353.21 M128.55 1346.63 L138.55 1346.63 M823.60 1346.63 L813.60 1346.63 M128.55 1340.83 L138.55 1340.83 M823.60 1340.83 L813.60 1340.83 M128.55 1335.63 L148.55 1335.63 M823.60 1335.63 L803.60 1335.63 M128.55 1301.46 L138.55 1301.46 M823.60 1301.46 L813.60 1301.46 M128.55 1281.48 L138.55 1281.48 M823.60 1281.48 L813.60 1281.48 M128.55 1267.30 L138.55 1267.30 M823.60 1267.30 L813.60 1267.30 M128.55 1256.30 L138.55 1256.30 M823.60 1256.30 L813.60 1256.30 M128.55 1247.31 L138.55 1247.31 M823.60 1247.31 L813.60 1247.31 M128.55 1239.71 L138.55 1239.71 M823.60 1239.71 L813.60 1239.71 M128.55 1233.13 L138.55 1233.13 M823.60 1233.13 L813.60 1233.13 M128.55 1227.32 L138.55 1227.32 M823.60 1227.32 L813.60 1227.32 M128.55 1222.13 L148.55 1222.13 M823.60 1222.13 L803.60 1222.13 M128.55 1187.96 L138.55 1187.96 M823.60 1187.96 L813.60 1187.96 M128.55 1167.97 L138.55 1167.97 M823.60 1167.97 L813.60 1167.97 M128.55 1153.79 L138.55 1153.79 M823.60 1153.79 L813.60 1153.79 M128.55 1142.79 L138.55 1142.79 M823.60 1142.79 L813.60 1142.79 M128.55 1133.80 L138.55 1133.80 M823.60 1133.80 L813.60 1133.80 M128.55 1126.21 L138.55 1126.21 M823.60 1126.21 L813.60 1126.21 M128.55 1119.62 L138.55 1119.62 M823.60 1119.62 L813.60 1119.62 M128.55 1113.82 L138.55 1113.82 M823.60 1113.82 L813.60 1113.82 M128.55 1108.62 L148.55 1108.62 M823.60 1108.62 L803.60 1108.62 M128.55 1074.46 L138.55 1074.46 M823.60 1074.46 L813.60 1074.46 M128.55 1054.47 L138.55 1054.47 M823.60 1054.47 L813.60 1054.47 M128.55 1040.29 L138.55 1040.29 M823.60 1040.29 L813.60 1040.29" stroke="#000" stroke-width="2.80" fill="none"/>
<path d="M128.50 140.10 L129.89 140.20 L131.29 140.31 L132.68 140.42 L134.08 140.54 L135.47 140.66 L136.86 140.78 L138.26 140.91 L139.65 141.04 L141.04 141.17 L142.44 141.30 L143.83 141.44 L145.23 141.57 L146.62 141.71 L148.01 141.85 L149.41 141.99 L150.80 142.13 L152.19 142.27 L153.59 142.40 L154.98 142.54 L156.38 142.68 L157.77 142.81 L159.16 142.95 L160.56 143.08 L161.95 143.21 L163.34 143.33 L164.74 143.46 L166.13 143.58 L167.53 143.69 L168.92 143.80 L170.31 143.91 L171.71 144.02 L173.10 144.13 L174.49 144.23 L175.89 144.33 L177.28 144.43 L178.68 144.53 L180.07 144.63 L181.46 144.73 L182.86 144.83 L184.25 144.92 L185.65 145.02 L187.04 145.11 L188.43 145.21 L189.83 145.30 L191.22 145.39 L192.61 145.48 L194.01 145.58 L195.40 145.67 L196.80 145.75 L198.19 145.84 L199.58 145.93 L200.98 146.02 L202.37 146.11 L203.76 146.19 L205.16 146.28 L206.55 146.37 L207.95 146.45 L209.34 146.54 L210.73 146.62 L212.13 146.71 L213.52 146.79 L214.91 146.88 L216.31 146.96 L217.70 147.04 L219.10 147.13 L220.49 147.21 L221.88 147.29 L223.28 147.37 L224.67 147.45 L226.07 147.53 L227.46 147.61 L228.85 147.68 L230.25 147.75 L231.64 147.83 L233.03 147.90 L234.43 147.97 L235.82 148.04 L237.22 148.11 L238.61 148.18 L240.00 148.24 L241.40 148.31 L242.79 148.38 L244.18 148.45 L245.58 148.52 L246.97 148.59 L248.37 148.66 L249.76 148.73 L251.15 148.80 L252.55 148.87 L253.94 148.94 L255.33 149.01 L256.73 149.09 L258.12 149.16 L259.52 149.24 L260.91 149.32 L262.30 149.40 L263.70 149.48 L265.09 149.56 L266.48 149.65 L267.88 149.74 L269.27 149.83 L270.67 149.92 L272.06 150.02 L273.45 150.12 L274.85 150.22 L276.24 150.33 L277.64 150.43 L279.03 150.55 L280.42 150.66 L281.82 150.78 L283.21 150.89 L284.60 151.01 L286.00 151.14 L287.39 151.26 L288.79 151.38 L290.18 151.51 L291.57 151.63 L292.97 151.76 L294.36 151.89 L295.75 152.01 L297.15 152.14 L298.54 152.27 L299.94 152.39 L301.33 152.52 L302.72 152.65 L304.12 152.78 L305.51 152.91 L306.90 153.04 L308.30 153.17 L309.69 153.31 L311.09 153.44 L312.48 153.58 L313.87 153.72 L315.27 153.86 L316.66 154.00 L318.06 154.15 L319.45 154.30 L320.84 154.45 L322.24 154.60 L323.63 154.75 L325.02 154.91 L326.42 155.07 L327.81 155.23 L329.21 155.41 L330.60 155.58 L331.99 155.77 L333.39 155.96 L334.78 156.15 L336.17 156.35 L337.57 156.55 L338.96 156.76 L340.36 156.97 L341.75 157.19 L343.14 157.41 L344.54 157.64 L345.93 157.87 L347.32 158.10 L348.72 158.33 L350.11 158.57 L351.51 158.82 L352.90 159.06 L354.29 159.31 L355.69 159.56 L357.08 159.81 L358.47 160.06 L359.87 160.32 L361.26 160.58 L362.66 160.84 L364.05 161.10 L365.44 161.37 L366.84 161.64 L368.23 161.92 L369.63 162.19 L371.02 162.47 L372.41 162.76 L373.81 163.04 L375.20 163.33 L376.59 163.63 L377.99 163.92 L379.38 164.22 L380.78 164.53 L382.17 164.84 L383.56 165.15 L384.96 165.47 L386.35 165.79 L387.74 166.11 L389.14 166.44 L390.53 166.77 L391.93 167.10 L393.32 167.43 L394.71 167.77 L396.11 168.11 L397.50 168.45 L398.89 168.79 L400.29 169.14 L401.68 169.49 L403.08 169.84 L404.47 170.19 L405.86 170.55 L407.26 170.92 L408.65 171.28 L410.05 171.66 L411.44 172.03 L412.83 172.41 L414.23 172.80 L415.62 173.18 L417.01 173.57 L418.41 173.96 L419.80 174.35 L421.20 174.74 L422.59 175.13 L423.98 175.52 L425.38 175.91 L426.77 176.31 L428.16 176.70 L429.56 177.09 L430.95 177.48 L432.35 177.88 L433.74 178.27 L435.13 178.66 L436.53 179.05 L437.92 179.43 L439.31 179.82 L440.71 180.21 L442.10 180.59 L443.50 180.98 L444.89 181.36 L446.28 181.74 L447.68 182.12 L449.07 182.51 L450.46 182.89 L451.86 183.26 L453.25 183.64 L454.65 184.02 L456.04 184.39 L457.43 184.76 L458.83 185.13 L460.22 185.50 L461.62 185.86 L463.01 186.22 L464.40 186.57 L465.80 186.92 L467.19 187.25 L468.58 187.57 L469.98 187.89 L471.37 188.19 L472.77 188.48 L474.16 188.77 L475.55 189.05 L476.95 189.31 L478.34 189.57 L479.73 189.83 L481.13 190.07 L482.52 190.31 L483.92 190.55 L485.31 190.77 L486.70 190.99 L488.10 191.21 L489.49 191.43 L490.88 191.64 L492.28 191.85 L493.67 192.06 L495.07 192.28 L496.46 192.49 L497.85 192.69 L499.25 192.90 L500.64 193.11 L502.04 193.32 L503.43 193.53 L504.82 193.73 L506.22 193.94 L507.61 194.14 L509.00 194.35 L510.40 194.55 L511.79 194.76 L513.19 194.97 L514.58 195.18 L515.97 195.39 L517.37 195.59 L518.76 195.80 L520.15 196.01 L521.55 196.21 L522.94 196.41 L524.34 196.61 L525.73 196.81 L527.12 197.00 L528.52 197.19 L529.91 197.37 L531.30 197.56 L532.70 197.74 L534.09 197.92 L535.49 198.10 L536.88 198.28 L538.27 198.45 L539.67 198.63 L541.06 198.81 L542.45 198.99 L543.85 199.16 L545.24 199.34 L546.64 199.51 L548.03 199.69 L549.42 199.86 L550.82 200.04 L552.21 200.21 L553.61 200.39 L555.00 200.56 L556.39 200.73 L557.79 200.91 L559.18 201.08 L560.57 201.25 L561.97 201.43 L563.36 201.60 L564.76 201.77 L566.15 201.94 L567.54 202.12 L568.94 202.29 L570.33 202.46 L571.72 202.63 L573.12 202.81 L574.51 202.98 L575.91 203.15 L577.30 203.33 L578.69 203.50 L580.09 203.67 L581.48 203.85 L582.87 204.02 L584.27 204.19 L585.66 204.36 L587.06 204.54 L588.45 204.71 L589.84 204.88 L591.24 205.05 L592.63 205.22 L594.03 205.39 L595.42 205.56 L596.81 205.73 L598.21 205.90 L599.60 206.07 L600.99 206.24 L602.39 206.41 L603.78 206.58 L605.18 206.75 L606.57 206.93 L607.96 207.10 L609.36 207.27 L610.75 207.44 L612.14 207.61 L613.54 207.78 L614.93 207.95 L616.33 208.13 L617.72 208.30 L619.11 208.47 L620.51 208.65 L621.90 208.82 L623.29 209.00 L624.69 209.17 L626.08 209.35 L627.48 209.53 L628.87 209.70 L630.26 209.88 L631.66 210.07 L633.05 210.25 L634.44 210.44 L635.84 210.63 L637.23 210.83 L638.63 211.02 L640.02 211.22 L641.41 211.43 L642.81 211.63 L644.20 211.84 L645.60 212.05 L646.99 212.26 L648.38 212.47 L649.78 212.68 L651.17 212.90 L652.56 213.11 L653.96 213.33 L655.35 213.55 L656.75 213.76 L658.14 213.98 L659.53 214.20 L660.93 214.41 L662.32 214.63 L663.71 214.84 L665.11 215.05 L666.50 215.27 L667.90 215.48 L669.29 215.68 L670.68 215.89 L672.08 216.10 L673.47 216.30 L674.86 216.50 L676.26 216.70 L677.65 216.90 L679.05 217.10 L680.44 217.30 L681.83 217.50 L683.23 217.70 L684.62 217.89 L686.02 218.09 L687.41 218.29 L688.80 218.48 L690.20 218.68 L691.59 218.87 L692.98 219.07 L694.38 219.26 L695.77 219.46 L697.17 219.65 L698.56 219.85 L699.95 220.04 L701.35 220.23 L702.74 220.43 L704.13 220.62 L705.53 220.82 L706.92 221.01 L708.32 221.21 L709.71 221.41 L711.10 221.60 L712.50 221.80 L713.89 222.00 L715.28 222.19 L716.68 222.39 L718.07 222.59 L719.47 222.79 L720.86 222.99 L722.25 223.20 L723.65 223.40 L725.04 223.61 L726.43 223.83 L727.83 224.04 L729.22 224.27 L730.62 224.49 L732.01 224.72 L733.40 224.96 L734.80 225.20 L736.19 225.44 L737.59 225.68 L738.98 225.93 L740.37 226.18 L741.77 226.44 L743.16 226.69 L744.55 226.95 L745.95 227.22 L747.34 227.48 L748.74 227.74 L750.13 228.01 L751.52 228.28 L752.92 228.55 L754.31 228.82 L755.70 229.10 L757.10 229.37 L758.49 229.64 L759.89 229.92 L761.28 230.20 L762.67 230.49 L764.07 230.79 L765.46 231.09 L766.85 231.41 L768.25 231.73 L769.64 232.06 L771.04 232.39 L772.43 232.74 L773.82 233.09 L775.22 233.46 L776.61 233.83 L778.01 234.21 L779.40 234.60 L780.79 234.99 L782.19 235.40 L783.58 235.81 L784.97 236.23 L786.37 236.67 L787.76 237.11 L789.16 237.57 L790.55 238.04 L791.94 238.53 L793.34 239.02 L794.73 239.53 L796.12 240.04 L797.52 240.56 L798.91 241.10 L800.31 241.64 L801.70 242.19 L803.09 242.74 L804.49 243.31 L805.88 243.87 L807.27 244.45 L808.67 245.03 L810.06 245.61 L811.46 246.21 L812.85 246.81 L814.24 247.41 L815.64 248.03 L817.03 248.65 L818.42 249.29 L819.82 249.94 L821.21 250.61 L822.61 251.30 L824.00 252.00" fill="none" stroke="#0000ff" stroke-width="5.00" stroke-linejoin="round" stroke-dasharray="19.8 6 3.8 6.2" clip-path="url(#c1)"/>
<path d="M128.50 596.50 L129.89 596.47 L131.29 596.43 L132.68 596.39 L134.08 596.36 L135.47 596.32 L136.86 596.28 L138.26 596.24 L139.65 596.20 L141.04 596.16 L142.44 596.11 L143.83 596.07 L145.23 596.03 L146.62 595.98 L148.01 595.94 L149.41 595.89 L150.80 595.85 L152.19 595.80 L153.59 595.76 L154.98 595.71 L156.38 595.67 L157.77 595.62 L159.16 595.57 L160.56 595.52 L161.95 595.48 L163.34 595.43 L164.74 595.38 L166.13 595.34 L167.53 595.29 L168.92 595.24 L170.31 595.19 L171.71 595.14 L173.10 595.09 L174.49 595.04 L175.89 594.99 L177.28 594.93 L178.68 594.88 L180.07 594.82 L181.46 594.76 L182.86 594.70 L184.25 594.64 L185.65 594.58 L187.04 594.51 L188.43 594.45 L189.83 594.38 L191.22 594.31 L192.61 594.25 L194.01 594.18 L195.40 594.11 L196.80 594.03 L198.19 593.96 L199.58 593.89 L200.98 593.81 L202.37 593.74 L203.76 593.66 L205.16 593.58 L206.55 593.51 L207.95 593.43 L209.34 593.35 L210.73 593.27 L212.13 593.19 L213.52 593.10 L214.91 593.02 L216.31 592.94 L217.70 592.86 L219.10 592.77 L220.49 592.69 L221.88 592.60 L223.28 592.51 L224.67 592.42 L226.07 592.33 L227.46 592.23 L228.85 592.14 L230.25 592.04 L231.64 591.93 L233.03 591.83 L234.43 591.72 L235.82 591.61 L237.22 591.50 L238.61 591.38 L240.00 591.26 L241.40 591.14 L242.79 591.01 L244.18 590.88 L245.58 590.75 L246.97 590.61 L248.37 590.47 L249.76 590.33 L251.15 590.18 L252.55 590.03 L253.94 589.87 L255.33 589.71 L256.73 589.54 L258.12 589.38 L259.52 589.20 L260.91 589.03 L262.30 588.84 L263.70 588.66 L265.09 588.47 L266.48 588.27 L267.88 588.07 L269.27 587.87 L270.67 587.66 L272.06 587.44 L273.45 587.23 L274.85 587.01 L276.24 586.79 L277.64 586.56 L279.03 586.34 L280.42 586.11 L281.82 585.88 L283.21 585.65 L284.60 585.42 L286.00 585.18 L287.39 584.95 L288.79 584.72 L290.18 584.48 L291.57 584.25 L292.97 584.01 L294.36 583.78 L295.75 583.54 L297.15 583.31 L298.54 583.08 L299.94 582.85 L301.33 582.62 L302.72 582.39 L304.12 582.16 L305.51 581.93 L306.90 581.70 L308.30 581.46 L309.69 581.23 L311.09 580.98 L312.48 580.74 L313.87 580.49 L315.27 580.23 L316.66 579.96 L318.06 579.69 L319.45 579.41 L320.84 579.12 L322.24 578.82 L323.63 578.51 L325.02 578.19 L326.42 577.87 L327.81 577.54 L329.21 577.19 L330.60 576.85 L331.99 576.49 L333.39 576.13 L334.78 575.76 L336.17 575.39 L337.57 575.02 L338.96 574.64 L340.36 574.25 L341.75 573.87 L343.14 573.48 L344.54 573.09 L345.93 572.69 L347.32 572.30 L348.72 571.90 L350.11 571.51 L351.51 571.11 L352.90 570.72 L354.29 570.33 L355.69 569.94 L357.08 569.55 L358.47 569.16 L359.87 568.76 L361.26 568.37 L362.66 567.98 L364.05 567.58 L365.44 567.18 L366.84 566.78 L368.23 566.38 L369.63 565.98 L371.02 565.58 L372.41 565.18 L373.81 564.78 L375.20 564.39 L376.59 563.99 L377.99 563.59 L379.38 563.20 L380.78 562.81 L382.17 562.42 L383.56 562.03 L384.96 561.65 L386.35 561.27 L387.74 560.89 L389.14 560.52 L390.53 560.15 L391.93 559.79 L393.32 559.43 L394.71 559.07 L396.11 558.72 L397.50 558.37 L398.89 558.02 L400.29 557.67 L401.68 557.32 L403.08 556.98 L404.47 556.64 L405.86 556.30 L407.26 555.96 L408.65 555.61 L410.05 555.27 L411.44 554.93 L412.83 554.59 L414.23 554.25 L415.62 553.91 L417.01 553.57 L418.41 553.23 L419.80 552.90 L421.20 552.56 L422.59 552.23 L423.98 551.90 L425.38 551.58 L426.77 551.26 L428.16 550.94 L429.56 550.63 L430.95 550.32 L432.35 550.02 L433.74 549.73 L435.13 549.44 L436.53 549.16 L437.92 548.89 L439.31 548.63 L440.71 548.38 L442.10 548.14 L443.50 547.91 L444.89 547.70 L446.28 547.50 L447.68 547.30 L449.07 547.12 L450.46 546.94 L451.86 546.77 L453.25 546.61 L454.65 546.45 L456.04 546.30 L457.43 546.15 L458.83 546.01 L460.22 545.87 L461.62 545.73 L463.01 545.59 L464.40 545.45 L465.80 545.31 L467.19 545.18 L468.58 545.04 L469.98 544.90 L471.37 544.77 L472.77 544.63 L474.16 544.50 L475.55 544.38 L476.95 544.25 L478.34 544.13 L479.73 544.01 L481.13 543.90 L482.52 543.79 L483.92 543.68 L485.31 543.58 L486.70 543.49 L488.10 543.40 L489.49 543.31 L490.88 543.23 L492.28 543.15 L493.67 543.06 L495.07 542.98 L496.46 542.91 L497.85 542.83 L499.25 542.75 L500.64 542.68 L502.04 542.60 L503.43 542.53 L504.82 542.46 L506.22 542.39 L507.61 542.32 L509.00 542.25 L510.40 542.19 L511.79 542.13 L513.19 542.07 L514.58 542.00 L515.97 541.95 L517.37 541.89 L518.76 541.83 L520.15 541.77 L521.55 541.71 L522.94 541.65 L524.34 541.58 L525.73 541.52 L527.12 541.45 L528.52 541.38 L529.91 541.31 L531.30 541.23 L532.70 541.16 L534.09 541.08 L535.49 541.00 L536.88 540.92 L538.27 540.84 L539.67 540.76 L541.06 540.68 L542.45 540.59 L543.85 540.51 L545.24 540.43 L546.64 540.34 L548.03 540.26 L549.42 540.17 L550.82 540.09 L552.21 540.00 L553.61 539.91 L555.00 539.82 L556.39 539.74 L557.79 539.65 L559.18 539.56 L560.57 539.47 L561.97 539.38 L563.36 539.29 L564.76 539.20 L566.15 539.11 L567.54 539.02 L568.94 538.93 L570.33 538.84 L571.72 538.75 L573.12 538.66 L574.51 538.57 L575.91 538.48 L577.30 538.39 L578.69 538.30 L580.09 538.21 L581.48 538.12 L582.87 538.03 L584.27 537.94 L585.66 537.85 L587.06 537.76 L588.45 537.67 L589.84 537.58 L591.24 537.48 L592.63 537.39 L594.03 537.29 L595.42 537.20 L596.81 537.11 L598.21 537.01 L599.60 536.91 L600.99 536.82 L602.39 536.72 L603.78 536.62 L605.18 536.53 L606.57 536.43 L607.96 536.33 L609.36 536.23 L610.75 536.13 L612.14 536.03 L613.54 535.93 L614.93 535.83 L616.33 535.73 L617.72 535.63 L619.11 535.53 L620.51 535.43 L621.90 535.33 L623.29 535.23 L624.69 535.12 L626.08 535.02 L627.48 534.92 L628.87 534.81 L630.26 534.71 L631.66 534.60 L633.05 534.49 L634.44 534.38 L635.84 534.26 L637.23 534.14 L638.63 534.02 L640.02 533.89 L641.41 533.76 L642.81 533.63 L644.20 533.49 L645.60 533.36 L646.99 533.21 L648.38 533.07 L649.78 532.92 L651.17 532.77 L652.56 532.61 L653.96 532.46 L655.35 532.30 L656.75 532.14 L658.14 531.97 L659.53 531.80 L660.93 531.64 L662.32 531.46 L663.71 531.29 L665.11 531.11 L666.50 530.94 L667.90 530.75 L669.29 530.57 L670.68 530.39 L672.08 530.20 L673.47 530.01 L674.86 529.82 L676.26 529.63 L677.65 529.43 L679.05 529.23 L680.44 529.03 L681.83 528.82 L683.23 528.61 L684.62 528.40 L686.02 528.19 L687.41 527.98 L688.80 527.76 L690.20 527.54 L691.59 527.32 L692.98 527.09 L694.38 526.87 L695.77 526.64 L697.17 526.41 L698.56 526.17 L699.95 525.94 L701.35 525.70 L702.74 525.46 L704.13 525.22 L705.53 524.98 L706.92 524.73 L708.32 524.48 L709.71 524.23 L711.10 523.98 L712.50 523.73 L713.89 523.47 L715.28 523.22 L716.68 522.96 L718.07 522.70 L719.47 522.44 L720.86 522.17 L722.25 521.91 L723.65 521.64 L725.04 521.37 L726.43 521.11 L727.83 520.84 L729.22 520.57 L730.62 520.30 L732.01 520.02 L733.40 519.75 L734.80 519.47 L736.19 519.20 L737.59 518.92 L738.98 518.64 L740.37 518.36 L741.77 518.08 L743.16 517.79 L744.55 517.51 L745.95 517.22 L747.34 516.93 L748.74 516.64 L750.13 516.35 L751.52 516.06 L752.92 515.76 L754.31 515.46 L755.70 515.16 L757.10 514.86 L758.49 514.56 L759.89 514.25 L761.28 513.94 L762.67 513.63 L764.07 513.32 L765.46 513.00 L766.85 512.69 L768.25 512.37 L769.64 512.04 L771.04 511.72 L772.43 511.39 L773.82 511.06 L775.22 510.73 L776.61 510.39 L778.01 510.06 L779.40 509.72 L780.79 509.38 L782.19 509.03 L783.58 508.68 L784.97 508.33 L786.37 507.98 L787.76 507.63 L789.16 507.27 L790.55 506.91 L791.94 506.55 L793.34 506.18 L794.73 505.81 L796.12 505.44 L797.52 505.07 L798.91 504.69 L800.31 504.31 L801.70 503.93 L803.09 503.55 L804.49 503.17 L805.88 502.79 L807.27 502.40 L808.67 502.02 L810.06 501.63 L811.46 501.24 L812.85 500.84 L814.24 500.45 L815.64 500.05 L817.03 499.65 L818.42 499.25 L819.82 498.85 L821.21 498.44 L822.61 498.02 L824.00 497.60" fill="none" stroke="#0000ff" stroke-width="5.00" stroke-linejoin="round" stroke-dasharray="19.8 6 3.8 6.2" clip-path="url(#c2)"/>
<path d="M128.50 776.30 L129.89 776.30 L131.29 776.30 L132.68 776.30 L134.08 776.31 L135.47 776.32 L136.86 776.34 L138.26 776.35 L139.65 776.37 L141.04 776.39 L142.44 776.41 L143.83 776.43 L145.23 776.46 L146.62 776.48 L148.01 776.51 L149.41 776.54 L150.80 776.57 L152.19 776.60 L153.59 776.63 L154.98 776.66 L156.38 776.69 L157.77 776.72 L159.16 776.75 L160.56 776.78 L161.95 776.81 L163.34 776.84 L164.74 776.87 L166.13 776.90 L167.53 776.92 L168.92 776.95 L170.31 776.97 L171.71 777.00 L173.10 777.02 L174.49 777.03 L175.89 777.05 L177.28 777.07 L178.68 777.08 L180.07 777.09 L181.46 777.09 L182.86 777.10 L184.25 777.10 L185.65 777.10 L187.04 777.09 L188.43 777.09 L189.83 777.08 L191.22 777.07 L192.61 777.05 L194.01 777.03 L195.40 777.01 L196.80 776.99 L198.19 776.97 L199.58 776.94 L200.98 776.91 L202.37 776.88 L203.76 776.85 L205.16 776.81 L206.55 776.78 L207.95 776.74 L209.34 776.70 L210.73 776.65 L212.13 776.61 L213.52 776.56 L214.91 776.51 L216.31 776.46 L217.70 776.40 L219.10 776.35 L220.49 776.29 L221.88 776.23 L223.28 776.18 L224.67 776.12 L226.07 776.06 L227.46 776.00 L228.85 775.93 L230.25 775.87 L231.64 775.81 L233.03 775.74 L234.43 775.68 L235.82 775.61 L237.22 775.54 L238.61 775.47 L240.00 775.40 L241.40 775.32 L242.79 775.24 L244.18 775.16 L245.58 775.08 L246.97 775.00 L248.37 774.92 L249.76 774.83 L251.15 774.75 L252.55 774.67 L253.94 774.58 L255.33 774.50 L256.73 774.42 L258.12 774.33 L259.52 774.25 L260.91 774.17 L262.30 774.08 L263.70 774.00 L265.09 773.92 L266.48 773.83 L267.88 773.75 L269.27 773.67 L270.67 773.58 L272.06 773.50 L273.45 773.42 L274.85 773.33 L276.24 773.25 L277.64 773.17 L279.03 773.08 L280.42 773.00 L281.82 772.92 L283.21 772.83 L284.60 772.75 L286.00 772.66 L287.39 772.58 L288.79 772.50 L290.18 772.41 L291.57 772.33 L292.97 772.25 L294.36 772.16 L295.75 772.08 L297.15 772.00 L298.54 771.92 L299.94 771.85 L301.33 771.78 L302.72 771.71 L304.12 771.65 L305.51 771.59 L306.90 771.53 L308.30 771.47 L309.69 771.42 L311.09 771.37 L312.48 771.32 L313.87 771.28 L315.27 771.24 L316.66 771.20 L318.06 771.16 L319.45 771.12 L320.84 771.09 L322.24 771.06 L323.63 771.03 L325.02 771.01 L326.42 770.99 L327.81 770.98 L329.21 770.98 L330.60 770.99 L331.99 771.02 L333.39 771.05 L334.78 771.09 L336.17 771.14 L337.57 771.20 L338.96 771.26 L340.36 771.33 L341.75 771.41 L343.14 771.50 L344.54 771.59 L345.93 771.68 L347.32 771.78 L348.72 771.88 L350.11 771.99 L351.51 772.10 L352.90 772.21 L354.29 772.33 L355.69 772.44 L357.08 772.56 L358.47 772.69 L359.87 772.82 L361.26 772.97 L362.66 773.12 L364.05 773.29 L365.44 773.47 L366.84 773.66 L368.23 773.87 L369.63 774.08 L371.02 774.30 L372.41 774.53 L373.81 774.76 L375.20 775.01 L376.59 775.27 L377.99 775.55 L379.38 775.83 L380.78 776.14 L382.17 776.45 L383.56 776.79 L384.96 777.13 L386.35 777.49 L387.74 777.86 L389.14 778.24 L390.53 778.64 L391.93 779.05 L393.32 779.47 L394.71 779.89 L396.11 780.33 L397.50 780.78 L398.89 781.24 L400.29 781.72 L401.68 782.21 L403.08 782.72 L404.47 783.27 L405.86 783.84 L407.26 784.44 L408.65 785.07 L410.05 785.74 L411.44 786.45 L412.83 787.20 L414.23 787.98 L415.62 788.79 L417.01 789.63 L418.41 790.49 L419.80 791.38 L421.20 792.28 L422.59 793.20 L423.98 794.13 L425.38 795.07 L426.77 796.03 L428.16 796.99 L429.56 797.96 L430.95 798.94 L432.35 799.92 L433.74 800.91 L435.13 801.92 L436.53 802.94 L437.92 803.98 L439.31 805.04 L440.71 806.14 L442.10 807.26 L443.50 808.44 L444.89 809.65 L446.28 810.92 L447.68 812.23 L449.07 813.58 L450.46 814.95 L451.86 816.32 L453.25 817.69 L454.65 819.04 L456.04 820.35 L457.43 821.63 L458.83 822.86 L460.22 824.06 L461.62 825.23 L463.01 826.39 L464.40 827.54 L465.80 828.69 L467.19 829.85 L468.58 831.03 L469.98 832.24 L471.37 833.49 L472.77 834.76 L474.16 836.06 L475.55 837.37 L476.95 838.69 L478.34 840.03 L479.73 841.37 L481.13 842.71 L482.52 844.06 L483.92 845.41 L485.31 846.77 L486.70 848.15 L488.10 849.58 L489.49 851.05 L490.88 852.58 L492.28 854.12 L493.67 855.66 L495.07 857.15 L496.46 858.58 L497.85 859.90 L499.25 861.09 L500.64 862.14 L502.04 863.08 L503.43 863.93 L504.82 864.75 L506.22 865.55 L507.61 866.35 L509.00 867.15 L510.40 867.95 L511.79 868.75 L513.19 869.55 L514.58 870.35 L515.97 871.15 L517.37 871.95 L518.76 872.75 L520.15 873.55 L521.55 874.32 L522.94 875.07 L524.34 875.77 L525.73 876.41 L527.12 877.00 L528.52 877.55 L529.91 878.06 L531.30 878.55 L532.70 879.02 L534.09 879.48 L535.49 879.94 L536.88 880.40 L538.27 880.86 L539.67 881.32 L541.06 881.77 L542.45 882.21 L543.85 882.63 L545.24 883.02 L546.64 883.39 L548.03 883.72 L549.42 884.02 L550.82 884.29 L552.21 884.54 L553.61 884.77 L555.00 884.98 L556.39 885.19 L557.79 885.38 L559.18 885.57 L560.57 885.75 L561.97 885.92 L563.36 886.08 L564.76 886.23 L566.15 886.38 L567.54 886.51 L568.94 886.64 L570.33 886.77 L571.72 886.89 L573.12 887.02 L574.51 887.14 L575.91 887.26 L577.30 887.38 L578.69 887.50 L580.09 887.62 L581.48 887.74 L582.87 887.86 L584.27 887.98 L585.66 888.10 L587.06 888.21 L588.45 888.33 L589.84 888.44 L591.24 888.56 L592.63 888.68 L594.03 888.79 L595.42 888.91 L596.81 889.02 L598.21 889.13 L599.60 889.24 L600.99 889.35 L602.39 889.46 L603.78 889.57 L605.18 889.67 L606.57 889.77 L607.96 889.87 L609.36 889.96 L610.75 890.05 L612.14 890.14 L613.54 890.23 L614.93 890.31 L616.33 890.40 L617.72 890.48 L619.11 890.56 L620.51 890.64 L621.90 890.72 L623.29 890.80 L624.69 890.88 L626.08 890.96 L627.48 891.03 L628.87 891.11 L630.26 891.19 L631.66 891.26 L633.05 891.34 L634.44 891.41 L635.84 891.49 L637.23 891.56 L638.63 891.63 L640.02 891.70 L641.41 891.77 L642.81 891.84 L644.20 891.90 L645.60 891.97 L646.99 892.04 L648.38 892.11 L649.78 892.17 L651.17 892.24 L652.56 892.30 L653.96 892.37 L655.35 892.44 L656.75 892.51 L658.14 892.57 L659.53 892.64 L660.93 892.71 L662.32 892.78 L663.71 892.85 L665.11 892.92 L666.50 893.00 L667.90 893.07 L669.29 893.15 L670.68 893.22 L672.08 893.30 L673.47 893.38 L674.86 893.46 L676.26 893.54 L677.65 893.62 L679.05 893.70 L680.44 893.79 L681.83 893.87 L683.23 893.96 L684.62 894.05 L686.02 894.13 L687.41 894.22 L688.80 894.31 L690.20 894.40 L691.59 894.49 L692.98 894.59 L694.38 894.68 L695.77 894.77 L697.17 894.87 L698.56 894.97 L699.95 895.06 L701.35 895.16 L702.74 895.26 L704.13 895.37 L705.53 895.47 L706.92 895.57 L708.32 895.68 L709.71 895.78 L711.10 895.89 L712.50 896.00 L713.89 896.11 L715.28 896.22 L716.68 896.33 L718.07 896.45 L719.47 896.56 L720.86 896.68 L722.25 896.80 L723.65 896.92 L725.04 897.04 L726.43 897.16 L727.83 897.28 L729.22 897.40 L730.62 897.52 L732.01 897.65 L733.40 897.77 L734.80 897.89 L736.19 898.02 L737.59 898.15 L738.98 898.27 L740.37 898.40 L741.77 898.53 L743.16 898.65 L744.55 898.78 L745.95 898.91 L747.34 899.04 L748.74 899.17 L750.13 899.30 L751.52 899.43 L752.92 899.56 L754.31 899.69 L755.70 899.82 L757.10 899.95 L758.49 900.08 L759.89 900.21 L761.28 900.35 L762.67 900.48 L764.07 900.61 L765.46 900.74 L766.85 900.87 L768.25 901.01 L769.64 901.14 L771.04 901.27 L772.43 901.40 L773.82 901.54 L775.22 901.67 L776.61 901.80 L778.01 901.94 L779.40 902.07 L780.79 902.21 L782.19 902.35 L783.58 902.48 L784.97 902.62 L786.37 902.76 L787.76 902.90 L789.16 903.04 L790.55 903.19 L791.94 903.33 L793.34 903.47 L794.73 903.62 L796.12 903.77 L797.52 903.92 L798.91 904.07 L800.31 904.23 L801.70 904.39 L803.09 904.56 L804.49 904.73 L805.88 904.91 L807.27 905.09 L808.67 905.27 L810.06 905.46 L811.46 905.65 L812.85 905.85 L814.24 906.05 L815.64 906.25 L817.03 906.45 L818.42 906.66 L819.82 906.87 L821.21 907.08 L822.61 907.29 L824.00 907.50" fill="none" stroke="#0000ff" stroke-width="5.00" stroke-linejoin="round" stroke-dasharray="19.8 6 3.8 6.2" clip-path="url(#c3)"/>
<path d="M128.50 1257.00 L129.89 1258.05 L131.29 1259.06 L132.68 1260.02 L134.08 1260.93 L135.47 1261.82 L136.86 1262.69 L138.26 1263.55 L139.65 1264.42 L141.04 1265.28 L142.44 1266.15 L143.83 1267.04 L145.23 1267.94 L146.62 1268.86 L148.01 1269.80 L149.41 1270.74 L150.80 1271.69 L152.19 1272.65 L153.59 1273.62 L154.98 1274.60 L156.38 1275.58 L157.77 1276.58 L159.16 1277.59 L160.56 1278.62 L161.95 1279.66 L163.34 1280.73 L164.74 1281.82 L166.13 1282.94 L167.53 1284.09 L168.92 1285.26 L170.31 1286.46 L171.71 1287.67 L173.10 1288.89 L174.49 1290.11 L175.89 1291.35 L177.28 1292.58 L178.68 1293.82 L180.07 1295.05 L181.46 1296.27 L182.86 1297.49 L184.25 1298.72 L185.65 1299.97 L187.04 1301.25 L188.43 1302.57 L189.83 1303.95 L191.22 1305.37 L192.61 1306.82 L194.01 1308.28 L195.40 1309.75 L196.80 1311.23 L198.19 1312.70 L199.58 1314.17 L200.98 1315.64 L202.37 1317.12 L203.76 1318.59 L205.16 1320.06 L206.55 1321.54 L207.95 1323.01 L209.34 1324.48 L210.73 1325.96 L212.13 1327.43 L213.52 1328.90 L214.91 1330.38 L216.31 1331.86 L217.70 1333.34 L219.10 1334.83 L220.49 1336.32 L221.88 1337.82 L223.28 1339.32 L224.67 1340.82 L226.07 1342.33 L227.46 1343.83 L228.85 1345.34 L230.25 1346.86 L231.64 1348.37 L233.03 1349.86 L234.43 1351.29 L235.82 1352.59 L237.22 1353.74 L238.61 1354.73 L240.00 1355.60 L241.40 1356.37 L242.79 1357.06 L244.18 1357.66 L245.58 1358.15 L246.97 1358.51 L248.37 1358.76 L249.76 1358.88 L251.15 1358.87 L252.55 1358.70 L253.94 1358.35 L255.33 1357.76 L256.73 1356.94 L258.12 1355.92 L259.52 1354.75 L260.91 1353.52 L262.30 1352.25 L263.70 1350.96 L265.09 1349.66 L266.48 1348.36 L267.88 1347.05 L269.27 1345.74 L270.67 1344.42 L272.06 1343.08 L273.45 1341.74 L274.85 1340.39 L276.24 1339.04 L277.64 1337.68 L279.03 1336.31 L280.42 1334.94 L281.82 1333.55 L283.21 1332.12 L284.60 1330.65 L286.00 1329.13 L287.39 1327.59 L288.79 1326.04 L290.18 1324.55 L291.57 1323.13 L292.97 1321.81 L294.36 1320.59 L295.75 1319.45 L297.15 1318.37 L298.54 1317.31 L299.94 1316.24 L301.33 1315.15 L302.72 1314.04 L304.12 1312.90 L305.51 1311.76 L306.90 1310.61 L308.30 1309.46 L309.69 1308.33 L311.09 1307.21 L312.48 1306.11 L313.87 1305.05 L315.27 1304.04 L316.66 1303.09 L318.06 1302.21 L319.45 1301.38 L320.84 1300.61 L322.24 1299.88 L323.63 1299.19 L325.02 1298.52 L326.42 1297.86 L327.81 1297.20 L329.21 1296.55 L330.60 1295.89 L331.99 1295.24 L333.39 1294.59 L334.78 1293.94 L336.17 1293.30 L337.57 1292.66 L338.96 1292.02 L340.36 1291.40 L341.75 1290.79 L343.14 1290.19 L344.54 1289.61 L345.93 1289.03 L347.32 1288.46 L348.72 1287.88 L350.11 1287.29 L351.51 1286.69 L352.90 1286.07 L354.29 1285.42 L355.69 1284.74 L357.08 1284.04 L358.47 1283.31 L359.87 1282.58 L361.26 1281.83 L362.66 1281.09 L364.05 1280.34 L365.44 1279.59 L366.84 1278.84 L368.23 1278.10 L369.63 1277.35 L371.02 1276.60 L372.41 1275.86 L373.81 1275.11 L375.20 1274.37 L376.59 1273.62 L377.99 1272.86 L379.38 1272.08 L380.78 1271.25 L382.17 1270.33 L383.56 1269.31 L384.96 1268.22 L386.35 1267.06 L387.74 1265.89 L389.14 1264.70 L390.53 1263.53 L391.93 1262.36 L393.32 1261.18 L394.71 1260.00 L396.11 1258.80 L397.50 1257.58 L398.89 1256.34 L400.29 1255.07 L401.68 1253.79 L403.08 1252.47 L404.47 1251.13 L405.86 1249.76 L407.26 1248.36 L408.65 1246.93 L410.05 1245.49 L411.44 1244.03 L412.83 1242.55 L414.23 1241.05 L415.62 1239.55 L417.01 1238.03 L418.41 1236.50 L419.80 1234.96 L421.20 1233.41 L422.59 1231.85 L423.98 1230.28 L425.38 1228.70 L426.77 1227.12 L428.16 1225.52 L429.56 1223.89 L430.95 1222.25 L432.35 1220.59 L433.74 1218.93 L435.13 1217.30 L436.53 1215.71 L437.92 1214.18 L439.31 1212.69 L440.71 1211.20 L442.10 1209.67 L443.50 1208.04 L444.89 1206.33 L446.28 1204.58 L447.68 1202.84 L449.07 1201.16 L450.46 1199.54 L451.86 1197.99 L453.25 1196.48 L454.65 1195.02 L456.04 1193.61 L457.43 1192.23 L458.83 1190.86 L460.22 1189.47 L461.62 1188.01 L463.01 1186.49 L464.40 1184.92 L465.80 1183.34 L467.19 1181.76 L468.58 1180.21 L469.98 1178.71 L471.37 1177.30 L472.77 1176.03 L474.16 1174.90 L475.55 1173.90 L476.95 1172.96 L478.34 1172.06 L479.73 1171.20 L481.13 1170.38 L482.52 1169.63 L483.92 1168.96 L485.31 1168.37 L486.70 1167.88 L488.10 1167.48 L489.49 1167.17 L490.88 1166.92 L492.28 1166.74 L493.67 1166.62 L495.07 1166.57 L496.46 1166.58 L497.85 1166.66 L499.25 1166.80 L500.64 1167.00 L502.04 1167.25 L503.43 1167.56 L504.82 1167.91 L506.22 1168.31 L507.61 1168.75 L509.00 1169.24 L510.40 1169.77 L511.79 1170.35 L513.19 1170.99 L514.58 1171.72 L515.97 1172.56 L517.37 1173.53 L518.76 1174.63 L520.15 1175.85 L521.55 1177.19 L522.94 1178.65 L524.34 1180.23 L525.73 1181.92 L527.12 1183.69 L528.52 1185.53 L529.91 1187.38 L531.30 1189.25 L532.70 1191.10 L534.09 1192.93 L535.49 1194.72 L536.88 1196.47 L538.27 1198.19 L539.67 1199.90 L541.06 1201.62 L542.45 1203.37 L543.85 1205.17 L545.24 1207.01 L546.64 1208.90 L548.03 1210.82 L549.42 1212.75 L550.82 1214.70 L552.21 1216.66 L553.61 1218.62 L555.00 1220.58 L556.39 1222.56 L557.79 1224.55 L559.18 1226.53 L560.57 1228.51 L561.97 1230.47 L563.36 1232.40 L564.76 1234.26 L566.15 1236.04 L567.54 1237.74 L568.94 1239.36 L570.33 1240.91 L571.72 1242.42 L573.12 1243.90 L574.51 1245.37 L575.91 1246.83 L577.30 1248.28 L578.69 1249.72 L580.09 1251.13 L581.48 1252.52 L582.87 1253.86 L584.27 1255.16 L585.66 1256.42 L587.06 1257.62 L588.45 1258.76 L589.84 1259.85 L591.24 1260.88 L592.63 1261.87 L594.03 1262.81 L595.42 1263.72 L596.81 1264.59 L598.21 1265.42 L599.60 1266.24 L600.99 1267.03 L602.39 1267.80 L603.78 1268.55 L605.18 1269.29 L606.57 1270.01 L607.96 1270.71 L609.36 1271.38 L610.75 1272.02 L612.14 1272.62 L613.54 1273.18 L614.93 1273.71 L616.33 1274.20 L617.72 1274.67 L619.11 1275.10 L620.51 1275.50 L621.90 1275.87 L623.29 1276.20 L624.69 1276.51 L626.08 1276.79 L627.48 1277.06 L628.87 1277.31 L630.26 1277.55 L631.66 1277.78 L633.05 1277.99 L634.44 1278.19 L635.84 1278.38 L637.23 1278.55 L638.63 1278.70 L640.02 1278.85 L641.41 1278.98 L642.81 1279.12 L644.20 1279.25 L645.60 1279.38 L646.99 1279.50 L648.38 1279.62 L649.78 1279.74 L651.17 1279.85 L652.56 1279.95 L653.96 1280.05 L655.35 1280.15 L656.75 1280.23 L658.14 1280.32 L659.53 1280.40 L660.93 1280.48 L662.32 1280.56 L663.71 1280.63 L665.11 1280.71 L666.50 1280.79 L667.90 1280.86 L669.29 1280.94 L670.68 1281.01 L672.08 1281.07 L673.47 1281.14 L674.86 1281.20 L676.26 1281.25 L677.65 1281.30 L679.05 1281.35 L680.44 1281.39 L681.83 1281.42 L683.23 1281.45 L684.62 1281.47 L686.02 1281.49 L687.41 1281.50 L688.80 1281.51 L690.20 1281.52 L691.59 1281.52 L692.98 1281.53 L694.38 1281.54 L695.77 1281.54 L697.17 1281.55 L698.56 1281.56 L699.95 1281.56 L701.35 1281.57 L702.74 1281.57 L704.13 1281.58 L705.53 1281.59 L706.92 1281.59 L708.32 1281.60 L709.71 1281.60 L711.10 1281.61 L712.50 1281.61 L713.89 1281.62 L715.28 1281.62 L716.68 1281.63 L718.07 1281.63 L719.47 1281.63 L720.86 1281.64 L722.25 1281.64 L723.65 1281.65 L725.04 1281.65 L726.43 1281.65 L727.83 1281.66 L729.22 1281.66 L730.62 1281.66 L732.01 1281.67 L733.40 1281.67 L734.80 1281.67 L736.19 1281.68 L737.59 1281.68 L738.98 1281.68 L740.37 1281.68 L741.77 1281.68 L743.16 1281.69 L744.55 1281.69 L745.95 1281.69 L747.34 1281.69 L748.74 1281.69 L750.13 1281.69 L751.52 1281.70 L752.92 1281.70 L754.31 1281.70 L755.70 1281.70 L757.10 1281.70 L758.49 1281.70 L759.89 1281.70 L761.28 1281.70 L762.67 1281.70 L764.07 1281.70 L765.46 1281.70 L766.85 1281.70 L768.25 1281.70 L769.64 1281.70 L771.04 1281.70 L772.43 1281.70 L773.82 1281.70 L775.22 1281.71 L776.61 1281.71 L778.01 1281.71 L779.40 1281.71 L780.79 1281.71 L782.19 1281.71 L783.58 1281.71 L784.97 1281.71 L786.37 1281.71 L787.76 1281.71 L789.16 1281.71 L790.55 1281.71 L791.94 1281.71 L793.34 1281.71 L794.73 1281.71 L796.12 1281.71 L797.52 1281.71 L798.91 1281.71 L800.31 1281.71 L801.70 1281.71 L803.09 1281.71 L804.49 1281.71 L805.88 1281.71 L807.27 1281.71 L808.67 1281.71 L810.06 1281.71 L811.46 1281.71 L812.85 1281.71 L814.24 1281.71 L815.64 1281.71 L817.03 1281.71 L818.42 1281.71 L819.82 1281.70 L821.21 1281.70 L822.61 1281.70 L824.00 1281.70" fill="none" stroke="#0000ff" stroke-width="5.00" stroke-linejoin="round" stroke-dasharray="19.8 6 3.8 6.2" clip-path="url(#c4)"/>
<rect x="128.55" y="7.75" width="695.05" height="1362.05" fill="none" stroke="#000" stroke-width="5.00"/>
<line x1="128.55" y1="348.26" x2="823.60" y2="348.26" stroke="#000" stroke-width="5.00"/>
<line x1="128.55" y1="688.77" x2="823.60" y2="688.77" stroke="#000" stroke-width="5.00"/>
<line x1="128.55" y1="1029.29" x2="823.60" y2="1029.29" stroke="#000" stroke-width="5.00"/>
<text x="113.00" y="310.22" font-family="Liberation Sans, sans-serif" font-size="25.0" text-anchor="end">10<tspan font-size="20.6" dy="-12.4">31</tspan></text>
<text x="113.00" y="261.57" font-family="Liberation Sans, sans-serif" font-size="25.0" text-anchor="end">10<tspan font-size="20.6" dy="-12.4">32</tspan></text>
<text x="113.00" y="212.93" font-family="Liberation Sans, sans-serif" font-size="25.0" text-anchor="end">10<tspan font-size="20.6" dy="-12.4">33</tspan></text>
<text x="113.00" y="164.28" font-family="Liberation Sans, sans-serif" font-size="25.0" text-anchor="end">10<tspan font-size="20.6" dy="-12.4">34</tspan></text>
<text x="113.00" y="115.64" font-family="Liberation Sans, sans-serif" font-size="25.0" text-anchor="end">10<tspan font-size="20.6" dy="-12.4">35</tspan></text>
<text x="113.00" y="66.99" font-family="Liberation Sans, sans-serif" font-size="25.0" text-anchor="end">10<tspan font-size="20.6" dy="-12.4">36</tspan></text>
<text x="113.00" y="438.30" font-family="Liberation Sans, sans-serif" font-size="25.0" text-anchor="end">1</text>
<text x="113.00" y="608.55" font-family="Liberation Sans, sans-serif" font-size="25.0" text-anchor="end">0.1</text>
<text x="113.00" y="1017.61" font-family="Liberation Sans, sans-serif" font-size="25.0" text-anchor="end">10<tspan font-size="20.6" dy="-12.4">-15</tspan></text>
<text x="113.00" y="943.62" font-family="Liberation Sans, sans-serif" font-size="25.0" text-anchor="end">10<tspan font-size="20.6" dy="-12.4">-14</tspan></text>
<text x="113.00" y="869.63" font-family="Liberation Sans, sans-serif" font-size="25.0" text-anchor="end">10<tspan font-size="20.6" dy="-12.4">-13</tspan></text>
<text x="113.00" y="795.64" font-family="Liberation Sans, sans-serif" font-size="25.0" text-anchor="end">10<tspan font-size="20.6" dy="-12.4">-12</tspan></text>
<text x="113.00" y="721.65" font-family="Liberation Sans, sans-serif" font-size="25.0" text-anchor="end">10<tspan font-size="20.6" dy="-12.4">-11</tspan></text>
<text x="113.00" y="1117.42" font-family="Liberation Sans, sans-serif" font-size="25.0" text-anchor="end">100</text>
<text x="113.00" y="1230.93" font-family="Liberation Sans, sans-serif" font-size="25.0" text-anchor="end">10</text>
<text x="113.00" y="1344.43" font-family="Liberation Sans, sans-serif" font-size="25.0" text-anchor="end">1</text>
<text x="149.20" y="1406.70" font-family="Liberation Sans, sans-serif" font-size="25.0" text-anchor="middle">10<tspan font-size="20.6" dy="-12.4">2</tspan></text>
<text x="353.75" y="1406.70" font-family="Liberation Sans, sans-serif" font-size="25.0" text-anchor="middle">10<tspan font-size="20.6" dy="-12.4">3</tspan></text>
<text x="558.30" y="1406.70" font-family="Liberation Sans, sans-serif" font-size="25.0" text-anchor="middle">10<tspan font-size="20.6" dy="-12.4">4</tspan></text>
<text x="762.85" y="1406.70" font-family="Liberation Sans, sans-serif" font-size="25.0" text-anchor="middle">10<tspan font-size="20.6" dy="-12.4">5</tspan></text>
<text x="475.8" y="1444.6" font-family="Liberation Sans, sans-serif" font-size="32.2" text-anchor="middle">Time (years)</text>
<text transform="translate(40.00 178.00) rotate(-90)" font-family="Liberation Serif, serif" font-weight="bold" font-size="35.6" text-anchor="middle">L<tspan font-size="28.5" dy="11">total</tspan><tspan dy="-11">&#8203;</tspan> (erg s<tspan font-size="28.5" dy="-18">-1</tspan><tspan dy="18">&#8203;</tspan>)</text>
<text transform="translate(58.30 518.80) rotate(-90)" font-family="Liberation Serif, serif" font-weight="bold" font-size="35.6" text-anchor="middle">P (s)</text>
<text transform="translate(44.40 860.00) rotate(-90)" font-family="Liberation Serif, serif" font-weight="bold" font-size="35.6" text-anchor="middle">P (s s<tspan font-size="28.5" dy="-18">-1</tspan><tspan dy="18">&#8203;</tspan>)</text>
<circle cx="14.2" cy="905" r="2.7" fill="#000"/>
<text transform="translate(51.50 1199.20) rotate(-90)" font-family="Liberation Serif, serif" font-weight="bold" font-size="35.6" text-anchor="middle">n</text>
<text x="546" y="54.20" font-family="Liberation Serif, serif" font-weight="bold" font-size="29.0">B<tspan font-size="23.2" dy="9.2">0</tspan><tspan dy="-9.2"> = 1x10</tspan><tspan font-size="23.2" dy="-14.6">12</tspan><tspan dy="14.6"> G</tspan></text>
<text x="546" y="87.10" font-family="Liberation Serif, serif" font-weight="bold" font-size="29.0">B<tspan font-size="23.2" dy="9.2">0</tspan><tspan dy="-9.2"> = 2x10</tspan><tspan font-size="23.2" dy="-14.6">12</tspan><tspan dy="14.6"> G</tspan></text>
<text x="546" y="120.00" font-family="Liberation Serif, serif" font-weight="bold" font-size="29.0">B<tspan font-size="23.2" dy="9.2">0</tspan><tspan dy="-9.2"> = 6x10</tspan><tspan font-size="23.2" dy="-14.6">12</tspan><tspan dy="14.6"> G</tspan></text>
<line x1="735.2" y1="44.5" x2="791" y2="44.5" stroke="#ff0000" stroke-width="5"/>
<line x1="735.2" y1="77.3" x2="791" y2="77.3" stroke="#00ff00" stroke-width="5" stroke-dasharray="6.7 9.5"/>
<line x1="735.2" y1="110" x2="791" y2="110" stroke="#0000ff" stroke-width="5" stroke-dasharray="19.8 6 3.8 6.2"/>
</svg>
</body></html>
